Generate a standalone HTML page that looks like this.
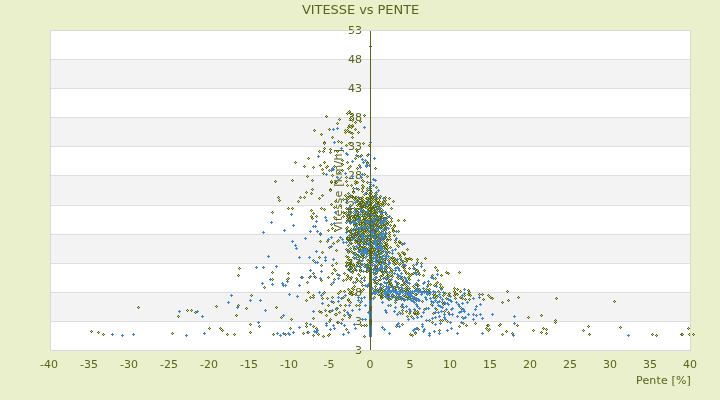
<!DOCTYPE html>
<html><head><meta charset="utf-8"><title>VITESSE vs PENTE</title>
<style>html,body{margin:0;padding:0;background:#eaf0cc;width:720px;height:400px;overflow:hidden;position:relative}
svg{display:block;position:absolute;left:0;top:0}
.lab{position:absolute;left:0;top:0;width:720px;height:400px;font-family:'DejaVu Sans',sans-serif;font-size:11px;line-height:13px;color:#59631a}
.lab span{position:absolute;white-space:nowrap}
.vt{transform-origin:0 0;transform:rotate(-90deg);letter-spacing:0.27px}
</style>
</head><body><svg width="720" height="400" viewBox="0 0 720 400"><rect x="0" y="0" width="720" height="400" fill="#eaf0cc"/><rect x="50" y="30" width="640" height="320" fill="#ffffff"/><rect x="51" y="59.09" width="639" height="29.09" fill="#f3f3f3"/><rect x="51" y="117.27" width="639" height="29.09" fill="#f3f3f3"/><rect x="51" y="175.45" width="639" height="29.09" fill="#f3f3f3"/><rect x="51" y="233.64" width="639" height="29.09" fill="#f3f3f3"/><rect x="51" y="291.82" width="639" height="29.09" fill="#f3f3f3"/><line x1="51" y1="59.5" x2="690" y2="59.5" stroke="#dedede" stroke-width="1"/><line x1="51" y1="88.5" x2="690" y2="88.5" stroke="#dedede" stroke-width="1"/><line x1="51" y1="117.5" x2="690" y2="117.5" stroke="#dedede" stroke-width="1"/><line x1="51" y1="146.5" x2="690" y2="146.5" stroke="#dedede" stroke-width="1"/><line x1="51" y1="175.5" x2="690" y2="175.5" stroke="#dedede" stroke-width="1"/><line x1="51" y1="205.5" x2="690" y2="205.5" stroke="#dedede" stroke-width="1"/><line x1="51" y1="234.5" x2="690" y2="234.5" stroke="#dedede" stroke-width="1"/><line x1="51" y1="263.5" x2="690" y2="263.5" stroke="#dedede" stroke-width="1"/><line x1="51" y1="292.5" x2="690" y2="292.5" stroke="#dedede" stroke-width="1"/><line x1="51" y1="321.5" x2="690" y2="321.5" stroke="#dedede" stroke-width="1"/></svg><div class="lab"><span style="left:-1px;top:358px;width:100px;text-align:center">-40</span><span style="left:39px;top:358px;width:100px;text-align:center">-35</span><span style="left:79px;top:358px;width:100px;text-align:center">-30</span><span style="left:119px;top:358px;width:100px;text-align:center">-25</span><span style="left:159px;top:358px;width:100px;text-align:center">-20</span><span style="left:199px;top:358px;width:100px;text-align:center">-15</span><span style="left:239px;top:358px;width:100px;text-align:center">-10</span><span style="left:279px;top:358px;width:100px;text-align:center">-5</span><span style="left:320px;top:358px;width:100px;text-align:center">0</span><span style="left:360px;top:358px;width:100px;text-align:center">5</span><span style="left:400px;top:358px;width:100px;text-align:center">10</span><span style="left:440px;top:358px;width:100px;text-align:center">15</span><span style="left:480px;top:358px;width:100px;text-align:center">20</span><span style="left:520px;top:358px;width:100px;text-align:center">25</span><span style="left:560px;top:358px;width:100px;text-align:center">30</span><span style="left:600px;top:358px;width:100px;text-align:center">35</span><span style="left:640px;top:358px;width:100px;text-align:center">40</span><span style="left:302px;top:24px;width:60px;text-align:right">53</span><span style="left:302px;top:53px;width:60px;text-align:right">48</span><span style="left:302px;top:82px;width:60px;text-align:right">43</span><span style="left:302px;top:111px;width:60px;text-align:right">38</span><span style="left:302px;top:140px;width:60px;text-align:right">33</span><span style="left:302px;top:169px;width:60px;text-align:right">28</span><span style="left:302px;top:199px;width:60px;text-align:right">23</span><span style="left:302px;top:228px;width:60px;text-align:right">18</span><span style="left:302px;top:257px;width:60px;text-align:right">13</span><span style="left:302px;top:286px;width:60px;text-align:right">8</span><span style="left:302px;top:315px;width:60px;text-align:right">3</span><span style="left:302px;top:344px;width:60px;text-align:right">3</span><span style="left:636px;top:374px;letter-spacing:0.15px">Pente [%]</span><span class="vt" style="left:332px;top:232px">Vitesse [km/h]</span><span style="left:302px;top:2px;font-size:13px;line-height:15px;letter-spacing:-0.07px">VITESSE vs PENTE</span></div><svg width="720" height="400" viewBox="0 0 720 400"><g shape-rendering="crispEdges"><path d="M430 301h3v1h-3zM431 300h1v3h-1zM364 305h3v1h-3zM365 304h1v3h-1zM401 304h3v1h-3zM402 303h1v3h-1zM413 309h3v1h-3zM414 308h1v3h-1zM398 326h3v1h-3zM399 325h1v3h-1zM422 331h3v1h-3zM423 330h1v3h-1zM481 333h3v1h-3zM482 332h1v3h-1zM396 267h3v1h-3zM397 266h1v3h-1zM412 268h3v1h-3zM413 267h1v3h-1zM396 274h3v1h-3zM397 273h1v3h-1zM365 198h3v1h-3zM366 197h1v3h-1zM368 231h3v1h-3zM369 230h1v3h-1zM367 238h3v1h-3zM368 237h1v3h-1zM373 238h3v1h-3zM374 237h1v3h-1zM378 243h3v1h-3zM379 242h1v3h-1zM353 248h3v1h-3zM354 247h1v3h-1zM358 245h3v1h-3zM359 244h1v3h-1zM362 244h3v1h-3zM363 243h1v3h-1zM384 248h3v1h-3zM385 247h1v3h-1zM383 248h3v1h-3zM384 247h1v3h-1zM364 265h3v1h-3zM365 264h1v3h-1zM355 270h3v1h-3zM356 269h1v3h-1zM377 269h3v1h-3zM378 268h1v3h-1zM390 286h3v1h-3zM391 285h1v3h-1zM405 293h3v1h-3zM406 292h1v3h-1z" fill="#3a86d8"/><path d="M287 273h3v1h-3zM288 272h1v3h-1zM250 295h3v1h-3zM251 294h1v3h-1zM333 207h3v1h-3zM334 206h1v3h-1zM319 165h3v1h-3zM320 164h1v3h-1zM437 291h3v1h-3zM438 290h1v3h-1zM445 298h3v1h-3zM446 297h1v3h-1zM348 111h3v1h-3zM349 110h1v3h-1zM351 126h3v1h-3zM352 125h1v3h-1zM341 164h3v1h-3zM342 163h1v3h-1zM347 300h3v1h-3zM348 299h1v3h-1zM388 234h3v1h-3zM389 233h1v3h-1zM366 203h3v1h-3zM367 202h1v3h-1zM363 206h3v1h-3zM364 205h1v3h-1zM354 214h3v1h-3zM355 213h1v3h-1zM377 218h3v1h-3zM378 217h1v3h-1zM358 223h3v1h-3zM359 222h1v3h-1zM365 224h3v1h-3zM366 223h1v3h-1zM361 231h3v1h-3zM362 230h1v3h-1zM363 235h3v1h-3zM364 234h1v3h-1zM370 235h3v1h-3zM371 234h1v3h-1zM373 231h3v1h-3zM374 230h1v3h-1zM377 242h3v1h-3zM378 241h1v3h-1zM360 248h3v1h-3zM361 247h1v3h-1zM377 251h3v1h-3zM378 250h1v3h-1zM373 253h3v1h-3zM374 252h1v3h-1zM350 268h3v1h-3zM351 267h1v3h-1zM374 269h3v1h-3zM375 268h1v3h-1zM384 269h3v1h-3zM385 268h1v3h-1zM385 292h3v1h-3zM386 291h1v3h-1zM412 299h3v1h-3zM413 298h1v3h-1zM369 210h3v1h-3zM370 209h1v3h-1zM369 261h3v1h-3zM370 260h1v3h-1z" fill="#5b6614"/><path d="M288 273h1v1h-1zM251 295h1v1h-1zM334 207h1v1h-1zM320 165h1v1h-1zM438 291h1v1h-1zM446 298h1v1h-1zM349 111h1v1h-1zM352 126h1v1h-1zM342 164h1v1h-1zM348 300h1v1h-1zM389 234h1v1h-1zM367 203h1v1h-1zM364 206h1v1h-1zM355 214h1v1h-1zM378 218h1v1h-1zM359 223h1v1h-1zM366 224h1v1h-1zM362 231h1v1h-1zM364 235h1v1h-1zM371 235h1v1h-1zM374 231h1v1h-1zM378 242h1v1h-1zM361 248h1v1h-1zM378 251h1v1h-1zM374 253h1v1h-1zM351 268h1v1h-1zM375 269h1v1h-1zM385 269h1v1h-1zM386 292h1v1h-1zM413 299h1v1h-1zM370 210h1v1h-1zM370 261h1v1h-1z" fill="#c6d86a"/><path d="M235 315h3v1h-3zM236 314h1v3h-1zM226 334h3v1h-3zM227 333h1v3h-1zM303 197h3v1h-3zM304 196h1v3h-1zM321 169h3v1h-3zM322 168h1v3h-1zM554 320h3v1h-3zM555 319h1v3h-1zM545 329h3v1h-3zM546 328h1v3h-1zM507 300h3v1h-3zM508 299h1v3h-1zM421 301h3v1h-3zM422 300h1v3h-1zM354 183h3v1h-3zM355 182h1v3h-1zM352 188h3v1h-3zM353 187h1v3h-1zM343 315h3v1h-3zM344 314h1v3h-1zM341 319h3v1h-3zM342 318h1v3h-1zM382 273h3v1h-3zM383 272h1v3h-1zM380 289h3v1h-3zM381 288h1v3h-1zM388 236h3v1h-3zM389 235h1v3h-1zM359 198h3v1h-3zM360 197h1v3h-1zM368 202h3v1h-3zM369 201h1v3h-1zM371 196h3v1h-3zM372 195h1v3h-1zM370 201h3v1h-3zM371 200h1v3h-1zM361 206h3v1h-3zM362 205h1v3h-1zM375 205h3v1h-3zM376 204h1v3h-1zM370 210h3v1h-3zM371 209h1v3h-1zM379 208h3v1h-3zM380 207h1v3h-1zM347 216h3v1h-3zM348 215h1v3h-1zM358 217h3v1h-3zM359 216h1v3h-1zM359 212h3v1h-3zM360 211h1v3h-1zM356 213h3v1h-3zM357 212h1v3h-1zM375 217h3v1h-3zM376 216h1v3h-1zM367 225h3v1h-3zM368 224h1v3h-1zM379 220h3v1h-3zM380 219h1v3h-1zM346 230h3v1h-3zM347 229h1v3h-1zM361 233h3v1h-3zM362 232h1v3h-1zM369 235h3v1h-3zM370 234h1v3h-1zM383 228h3v1h-3zM384 227h1v3h-1zM381 231h3v1h-3zM382 230h1v3h-1zM350 243h3v1h-3zM351 242h1v3h-1zM364 238h3v1h-3zM365 237h1v3h-1zM369 244h3v1h-3zM370 243h1v3h-1zM377 246h3v1h-3zM378 245h1v3h-1zM395 298h3v1h-3zM396 297h1v3h-1zM400 298h3v1h-3zM401 297h1v3h-1zM392 295h3v1h-3zM393 294h1v3h-1zM369 194h3v1h-3zM370 193h1v3h-1zM369 244h3v1h-3zM370 243h1v3h-1z" fill="#5b6614"/><path d="M236 315h1v1h-1zM227 334h1v1h-1zM304 197h1v1h-1zM322 169h1v1h-1zM555 320h1v1h-1zM546 329h1v1h-1zM508 300h1v1h-1zM422 301h1v1h-1zM355 183h1v1h-1zM353 188h1v1h-1zM344 315h1v1h-1zM342 319h1v1h-1zM383 273h1v1h-1zM381 289h1v1h-1zM389 236h1v1h-1zM360 198h1v1h-1zM369 202h1v1h-1zM372 196h1v1h-1zM371 201h1v1h-1zM362 206h1v1h-1zM376 205h1v1h-1zM371 210h1v1h-1zM380 208h1v1h-1zM348 216h1v1h-1zM359 217h1v1h-1zM360 212h1v1h-1zM357 213h1v1h-1zM376 217h1v1h-1zM368 225h1v1h-1zM380 220h1v1h-1zM347 230h1v1h-1zM362 233h1v1h-1zM370 235h1v1h-1zM384 228h1v1h-1zM382 231h1v1h-1zM351 243h1v1h-1zM365 238h1v1h-1zM370 244h1v1h-1zM378 246h1v1h-1zM396 298h1v1h-1zM401 298h1v1h-1zM393 295h1v1h-1zM370 194h1v1h-1zM370 244h1v1h-1z" fill="#c6d86a"/><path d="M121 335h3v1h-3zM122 334h1v3h-1zM336 177h3v1h-3zM337 176h1v3h-1zM375 273h3v1h-3zM376 272h1v3h-1zM375 277h3v1h-3zM376 276h1v3h-1zM394 268h3v1h-3zM395 267h1v3h-1zM397 268h3v1h-3zM398 267h1v3h-1zM362 204h3v1h-3zM363 203h1v3h-1zM360 222h3v1h-3zM361 221h1v3h-1zM366 227h3v1h-3zM367 226h1v3h-1zM381 222h3v1h-3zM382 221h1v3h-1zM384 223h3v1h-3zM385 222h1v3h-1zM360 239h3v1h-3zM361 238h1v3h-1zM364 237h3v1h-3zM365 236h1v3h-1zM374 248h3v1h-3zM375 247h1v3h-1zM369 327h3v1h-3zM370 326h1v3h-1z" fill="#3a86d8"/><path d="M313 331h3v1h-3zM314 330h1v3h-1zM449 296h3v1h-3zM450 295h1v3h-1zM331 169h3v1h-3zM332 168h1v3h-1zM337 301h3v1h-3zM338 300h1v3h-1zM357 300h3v1h-3zM358 299h1v3h-1zM367 312h3v1h-3zM368 311h1v3h-1zM415 328h3v1h-3zM416 327h1v3h-1zM416 328h3v1h-3zM417 327h1v3h-1zM406 282h3v1h-3zM407 281h1v3h-1zM384 218h3v1h-3zM385 217h1v3h-1zM376 247h3v1h-3zM377 246h1v3h-1zM390 298h3v1h-3zM391 297h1v3h-1zM406 289h3v1h-3zM407 288h1v3h-1zM409 294h3v1h-3zM410 293h1v3h-1zM369 330h3v1h-3zM370 329h1v3h-1z" fill="#3a86d8"/><path d="M275 307h3v1h-3zM276 306h1v3h-1zM331 297h3v1h-3zM332 296h1v3h-1zM321 195h3v1h-3zM322 194h1v3h-1zM287 208h3v1h-3zM288 207h1v3h-1zM320 208h3v1h-3zM321 207h1v3h-1zM319 234h3v1h-3zM320 233h1v3h-1zM335 250h3v1h-3zM336 249h1v3h-1zM420 263h3v1h-3zM421 262h1v3h-1zM425 289h3v1h-3zM426 288h1v3h-1zM453 291h3v1h-3zM454 290h1v3h-1zM447 295h3v1h-3zM448 294h1v3h-1zM453 295h3v1h-3zM454 294h1v3h-1zM346 130h3v1h-3zM347 129h1v3h-1zM357 132h3v1h-3zM358 131h1v3h-1zM333 166h3v1h-3zM334 165h1v3h-1zM374 168h3v1h-3zM375 167h1v3h-1zM355 305h3v1h-3zM356 304h1v3h-1zM345 329h3v1h-3zM346 328h1v3h-1zM382 293h3v1h-3zM383 292h1v3h-1zM390 208h3v1h-3zM391 207h1v3h-1zM390 218h3v1h-3zM391 217h1v3h-1zM391 228h3v1h-3zM392 227h1v3h-1zM397 278h3v1h-3zM398 277h1v3h-1zM365 198h3v1h-3zM366 197h1v3h-1zM378 201h3v1h-3zM379 200h1v3h-1zM360 208h3v1h-3zM361 207h1v3h-1zM364 204h3v1h-3zM365 203h1v3h-1zM381 204h3v1h-3zM382 203h1v3h-1zM351 216h3v1h-3zM352 215h1v3h-1zM361 212h3v1h-3zM362 211h1v3h-1zM365 212h3v1h-3zM366 211h1v3h-1zM370 212h3v1h-3zM371 211h1v3h-1zM356 224h3v1h-3zM357 223h1v3h-1zM383 225h3v1h-3zM384 224h1v3h-1zM351 234h3v1h-3zM352 233h1v3h-1zM354 235h3v1h-3zM355 234h1v3h-1zM373 234h3v1h-3zM374 233h1v3h-1zM381 228h3v1h-3zM382 227h1v3h-1zM382 235h3v1h-3zM383 234h1v3h-1zM348 238h3v1h-3zM349 237h1v3h-1zM357 239h3v1h-3zM358 238h1v3h-1zM376 237h3v1h-3zM377 236h1v3h-1zM371 241h3v1h-3zM372 240h1v3h-1zM374 237h3v1h-3zM375 236h1v3h-1zM369 218h3v1h-3zM370 217h1v3h-1zM369 230h3v1h-3zM370 229h1v3h-1z" fill="#5b6614"/><path d="M276 307h1v1h-1zM332 297h1v1h-1zM322 195h1v1h-1zM288 208h1v1h-1zM321 208h1v1h-1zM320 234h1v1h-1zM336 250h1v1h-1zM421 263h1v1h-1zM426 289h1v1h-1zM454 291h1v1h-1zM448 295h1v1h-1zM454 295h1v1h-1zM347 130h1v1h-1zM358 132h1v1h-1zM334 166h1v1h-1zM375 168h1v1h-1zM356 305h1v1h-1zM346 329h1v1h-1zM383 293h1v1h-1zM391 208h1v1h-1zM391 218h1v1h-1zM392 228h1v1h-1zM398 278h1v1h-1zM366 198h1v1h-1zM379 201h1v1h-1zM361 208h1v1h-1zM365 204h1v1h-1zM382 204h1v1h-1zM352 216h1v1h-1zM362 212h1v1h-1zM366 212h1v1h-1zM371 212h1v1h-1zM357 224h1v1h-1zM384 225h1v1h-1zM352 234h1v1h-1zM355 235h1v1h-1zM374 234h1v1h-1zM382 228h1v1h-1zM383 235h1v1h-1zM349 238h1v1h-1zM358 239h1v1h-1zM377 237h1v1h-1zM372 241h1v1h-1zM375 237h1v1h-1zM370 218h1v1h-1zM370 230h1v1h-1z" fill="#c6d86a"/><path d="M274 181h3v1h-3zM275 180h1v3h-1zM613 301h3v1h-3zM614 300h1v3h-1zM434 298h3v1h-3zM435 297h1v3h-1zM423 309h3v1h-3zM424 308h1v3h-1zM443 311h3v1h-3zM444 310h1v3h-1zM363 115h3v1h-3zM364 114h1v3h-1zM351 125h3v1h-3zM352 124h1v3h-1zM344 130h3v1h-3zM345 129h1v3h-1zM349 132h3v1h-3zM350 131h1v3h-1zM363 174h3v1h-3zM364 173h1v3h-1zM405 311h3v1h-3zM406 310h1v3h-1zM405 261h3v1h-3zM406 260h1v3h-1zM391 276h3v1h-3zM392 275h1v3h-1zM374 201h3v1h-3zM375 200h1v3h-1zM381 204h3v1h-3zM382 203h1v3h-1zM379 210h3v1h-3zM380 209h1v3h-1zM348 217h3v1h-3zM349 216h1v3h-1zM358 218h3v1h-3zM359 217h1v3h-1zM365 212h3v1h-3zM366 211h1v3h-1zM384 218h3v1h-3zM385 217h1v3h-1zM380 213h3v1h-3zM381 212h1v3h-1zM349 222h3v1h-3zM350 221h1v3h-1zM371 224h3v1h-3zM372 223h1v3h-1zM349 234h3v1h-3zM350 233h1v3h-1zM375 235h3v1h-3zM376 234h1v3h-1zM372 234h3v1h-3zM373 233h1v3h-1zM349 240h3v1h-3zM350 239h1v3h-1zM373 243h3v1h-3zM374 242h1v3h-1zM352 246h3v1h-3zM353 245h1v3h-1zM359 246h3v1h-3zM360 245h1v3h-1zM366 251h3v1h-3zM367 250h1v3h-1zM364 257h3v1h-3zM365 256h1v3h-1zM365 253h3v1h-3zM366 252h1v3h-1zM376 260h3v1h-3zM377 259h1v3h-1zM380 263h3v1h-3zM381 262h1v3h-1zM380 262h3v1h-3zM381 261h1v3h-1zM381 290h3v1h-3zM382 289h1v3h-1zM369 188h3v1h-3zM370 187h1v3h-1z" fill="#5b6614"/><path d="M275 181h1v1h-1zM614 301h1v1h-1zM435 298h1v1h-1zM424 309h1v1h-1zM444 311h1v1h-1zM364 115h1v1h-1zM352 125h1v1h-1zM345 130h1v1h-1zM350 132h1v1h-1zM364 174h1v1h-1zM406 311h1v1h-1zM406 261h1v1h-1zM392 276h1v1h-1zM375 201h1v1h-1zM382 204h1v1h-1zM380 210h1v1h-1zM349 217h1v1h-1zM359 218h1v1h-1zM366 212h1v1h-1zM385 218h1v1h-1zM381 213h1v1h-1zM350 222h1v1h-1zM372 224h1v1h-1zM350 234h1v1h-1zM376 235h1v1h-1zM373 234h1v1h-1zM350 240h1v1h-1zM374 243h1v1h-1zM353 246h1v1h-1zM360 246h1v1h-1zM367 251h1v1h-1zM365 257h1v1h-1zM366 253h1v1h-1zM377 260h1v1h-1zM381 263h1v1h-1zM381 262h1v1h-1zM382 290h1v1h-1zM370 188h1v1h-1z" fill="#c6d86a"/><path d="M321 303h3v1h-3zM322 302h1v3h-1zM332 325h3v1h-3zM333 324h1v3h-1zM292 225h3v1h-3zM293 224h1v3h-1zM333 142h3v1h-3zM334 141h1v3h-1zM451 308h3v1h-3zM452 307h1v3h-1zM385 272h3v1h-3zM386 271h1v3h-1zM400 273h3v1h-3zM401 272h1v3h-1zM355 216h3v1h-3zM356 215h1v3h-1zM353 215h3v1h-3zM354 214h1v3h-1zM363 220h3v1h-3zM364 219h1v3h-1zM369 228h3v1h-3zM370 227h1v3h-1zM359 242h3v1h-3zM360 241h1v3h-1zM356 247h3v1h-3zM357 246h1v3h-1zM374 251h3v1h-3zM375 250h1v3h-1zM368 264h3v1h-3zM369 263h1v3h-1zM406 293h3v1h-3zM407 292h1v3h-1z" fill="#3a86d8"/><path d="M416 317h3v1h-3zM417 316h1v3h-1zM354 328h3v1h-3zM355 327h1v3h-1zM415 314h3v1h-3zM416 313h1v3h-1zM384 292h3v1h-3zM385 291h1v3h-1zM388 262h3v1h-3zM389 261h1v3h-1zM388 263h3v1h-3zM389 262h1v3h-1zM367 201h3v1h-3zM368 200h1v3h-1zM364 230h3v1h-3zM365 229h1v3h-1zM363 240h3v1h-3zM364 239h1v3h-1zM377 242h3v1h-3zM378 241h1v3h-1zM366 253h3v1h-3zM367 252h1v3h-1zM380 253h3v1h-3zM381 252h1v3h-1zM377 260h3v1h-3zM378 259h1v3h-1zM404 296h3v1h-3zM405 295h1v3h-1zM408 288h3v1h-3zM409 287h1v3h-1z" fill="#3a86d8"/><path d="M237 275h3v1h-3zM238 274h1v3h-1zM215 306h3v1h-3zM216 305h1v3h-1zM322 336h3v1h-3zM323 335h1v3h-1zM277 197h3v1h-3zM278 196h1v3h-1zM333 217h3v1h-3zM334 216h1v3h-1zM428 294h3v1h-3zM429 293h1v3h-1zM351 133h3v1h-3zM352 132h1v3h-1zM368 145h3v1h-3zM369 144h1v3h-1zM361 185h3v1h-3zM362 184h1v3h-1zM416 311h3v1h-3zM417 310h1v3h-1zM386 289h3v1h-3zM387 288h1v3h-1zM379 295h3v1h-3zM380 294h1v3h-1zM394 240h3v1h-3zM395 239h1v3h-1zM386 248h3v1h-3zM387 247h1v3h-1zM390 272h3v1h-3zM391 271h1v3h-1zM402 281h3v1h-3zM403 280h1v3h-1zM369 199h3v1h-3zM370 198h1v3h-1zM349 209h3v1h-3zM350 208h1v3h-1zM360 209h3v1h-3zM361 208h1v3h-1zM353 211h3v1h-3zM354 210h1v3h-1zM383 218h3v1h-3zM384 217h1v3h-1zM375 221h3v1h-3zM376 220h1v3h-1zM371 223h3v1h-3zM372 222h1v3h-1zM373 224h3v1h-3zM374 223h1v3h-1zM357 230h3v1h-3zM358 229h1v3h-1zM346 237h3v1h-3zM347 236h1v3h-1zM366 239h3v1h-3zM367 238h1v3h-1zM377 237h3v1h-3zM378 236h1v3h-1zM373 249h3v1h-3zM374 248h1v3h-1zM378 250h3v1h-3zM379 249h1v3h-1zM370 263h3v1h-3zM371 262h1v3h-1zM377 264h3v1h-3zM378 263h1v3h-1zM383 271h3v1h-3zM384 270h1v3h-1zM387 299h3v1h-3zM388 298h1v3h-1zM412 286h3v1h-3zM413 285h1v3h-1zM369 226h3v1h-3zM370 225h1v3h-1zM369 295h3v1h-3zM370 294h1v3h-1z" fill="#5b6614"/><path d="M238 275h1v1h-1zM216 306h1v1h-1zM323 336h1v1h-1zM278 197h1v1h-1zM334 217h1v1h-1zM429 294h1v1h-1zM352 133h1v1h-1zM369 145h1v1h-1zM362 185h1v1h-1zM417 311h1v1h-1zM387 289h1v1h-1zM380 295h1v1h-1zM395 240h1v1h-1zM387 248h1v1h-1zM391 272h1v1h-1zM403 281h1v1h-1zM370 199h1v1h-1zM350 209h1v1h-1zM361 209h1v1h-1zM354 211h1v1h-1zM384 218h1v1h-1zM376 221h1v1h-1zM372 223h1v1h-1zM374 224h1v1h-1zM358 230h1v1h-1zM347 237h1v1h-1zM367 239h1v1h-1zM378 237h1v1h-1zM374 249h1v1h-1zM379 250h1v1h-1zM371 263h1v1h-1zM378 264h1v1h-1zM384 271h1v1h-1zM388 299h1v1h-1zM413 286h1v1h-1zM370 226h1v1h-1zM370 295h1v1h-1z" fill="#c6d86a"/><path d="M336 322h3v1h-3zM337 321h1v3h-1zM542 328h3v1h-3zM543 327h1v3h-1zM440 275h3v1h-3zM441 274h1v3h-1zM331 137h3v1h-3zM332 136h1v3h-1zM358 165h3v1h-3zM359 164h1v3h-1zM329 311h3v1h-3zM330 310h1v3h-1zM345 329h3v1h-3zM346 328h1v3h-1zM333 279h3v1h-3zM334 278h1v3h-1zM385 220h3v1h-3zM386 219h1v3h-1zM387 222h3v1h-3zM388 221h1v3h-1zM389 225h3v1h-3zM390 224h1v3h-1zM373 196h3v1h-3zM374 195h1v3h-1zM384 200h3v1h-3zM385 199h1v3h-1zM381 203h3v1h-3zM382 202h1v3h-1zM355 212h3v1h-3zM356 211h1v3h-1zM357 215h3v1h-3zM358 214h1v3h-1zM357 216h3v1h-3zM358 215h1v3h-1zM368 212h3v1h-3zM369 211h1v3h-1zM375 212h3v1h-3zM376 211h1v3h-1zM346 220h3v1h-3zM347 219h1v3h-1zM356 227h3v1h-3zM357 226h1v3h-1zM365 221h3v1h-3zM366 220h1v3h-1zM376 220h3v1h-3zM377 219h1v3h-1zM379 237h3v1h-3zM380 236h1v3h-1zM379 240h3v1h-3zM380 239h1v3h-1zM375 252h3v1h-3zM376 251h1v3h-1zM379 270h3v1h-3zM380 269h1v3h-1zM387 288h3v1h-3zM388 287h1v3h-1zM395 286h3v1h-3zM396 285h1v3h-1zM383 290h3v1h-3zM384 289h1v3h-1zM369 198h3v1h-3zM370 197h1v3h-1zM369 279h3v1h-3zM370 278h1v3h-1z" fill="#5b6614"/><path d="M337 322h1v1h-1zM543 328h1v1h-1zM441 275h1v1h-1zM332 137h1v1h-1zM359 165h1v1h-1zM330 311h1v1h-1zM346 329h1v1h-1zM334 279h1v1h-1zM386 220h1v1h-1zM388 222h1v1h-1zM390 225h1v1h-1zM374 196h1v1h-1zM385 200h1v1h-1zM382 203h1v1h-1zM356 212h1v1h-1zM358 215h1v1h-1zM358 216h1v1h-1zM369 212h1v1h-1zM376 212h1v1h-1zM347 220h1v1h-1zM357 227h1v1h-1zM366 221h1v1h-1zM377 220h1v1h-1zM380 237h1v1h-1zM380 240h1v1h-1zM376 252h1v1h-1zM380 270h1v1h-1zM388 288h1v1h-1zM396 286h1v1h-1zM384 290h1v1h-1zM370 198h1v1h-1zM370 279h1v1h-1z" fill="#c6d86a"/><path d="M269 279h3v1h-3zM270 278h1v3h-1zM317 156h3v1h-3zM318 155h1v3h-1zM424 297h3v1h-3zM425 296h1v3h-1zM373 158h3v1h-3zM374 157h1v3h-1zM403 300h3v1h-3zM404 299h1v3h-1zM412 301h3v1h-3zM413 300h1v3h-1zM402 307h3v1h-3zM403 306h1v3h-1zM403 282h3v1h-3zM404 281h1v3h-1zM345 232h3v1h-3zM346 231h1v3h-1zM357 197h3v1h-3zM358 196h1v3h-1zM370 199h3v1h-3zM371 198h1v3h-1zM348 235h3v1h-3zM349 234h1v3h-1zM360 229h3v1h-3zM361 228h1v3h-1zM380 232h3v1h-3zM381 231h1v3h-1zM384 243h3v1h-3zM385 242h1v3h-1zM362 251h3v1h-3zM363 250h1v3h-1zM369 248h3v1h-3zM370 247h1v3h-1zM376 244h3v1h-3zM377 243h1v3h-1zM376 245h3v1h-3zM377 244h1v3h-1zM384 266h3v1h-3zM385 265h1v3h-1z" fill="#3a86d8"/><path d="M279 335h3v1h-3zM280 334h1v3h-1zM422 288h3v1h-3zM423 287h1v3h-1zM450 309h3v1h-3zM451 308h1v3h-1zM443 314h3v1h-3zM444 313h1v3h-1zM355 155h3v1h-3zM356 154h1v3h-1zM359 156h3v1h-3zM360 155h1v3h-1zM394 307h3v1h-3zM395 306h1v3h-1zM414 332h3v1h-3zM415 331h1v3h-1zM364 285h3v1h-3zM365 284h1v3h-1zM372 272h3v1h-3zM373 271h1v3h-1zM387 299h3v1h-3zM388 298h1v3h-1zM373 205h3v1h-3zM374 204h1v3h-1zM363 216h3v1h-3zM364 215h1v3h-1zM359 220h3v1h-3zM360 219h1v3h-1zM363 223h3v1h-3zM364 222h1v3h-1zM370 225h3v1h-3zM371 224h1v3h-1zM381 234h3v1h-3zM382 233h1v3h-1zM362 249h3v1h-3zM363 248h1v3h-1zM363 248h3v1h-3zM364 247h1v3h-1zM374 244h3v1h-3zM375 243h1v3h-1zM360 264h3v1h-3zM361 263h1v3h-1zM381 271h3v1h-3zM382 270h1v3h-1zM391 294h3v1h-3zM392 293h1v3h-1z" fill="#3a86d8"/><path d="M326 298h3v1h-3zM327 297h1v3h-1zM312 326h3v1h-3zM313 325h1v3h-1zM330 224h3v1h-3zM331 223h1v3h-1zM313 130h3v1h-3zM314 129h1v3h-1zM501 302h3v1h-3zM502 301h1v3h-1zM488 329h3v1h-3zM489 328h1v3h-1zM498 325h3v1h-3zM499 324h1v3h-1zM375 194h3v1h-3zM376 193h1v3h-1zM368 194h3v1h-3zM369 193h1v3h-1zM343 310h3v1h-3zM344 309h1v3h-1zM400 306h3v1h-3zM401 305h1v3h-1zM401 310h3v1h-3zM402 309h1v3h-1zM360 282h3v1h-3zM361 281h1v3h-1zM401 252h3v1h-3zM402 251h1v3h-1zM393 258h3v1h-3zM394 257h1v3h-1zM401 263h3v1h-3zM402 262h1v3h-1zM391 270h3v1h-3zM392 269h1v3h-1zM410 274h3v1h-3zM411 273h1v3h-1zM429 284h3v1h-3zM430 283h1v3h-1zM368 197h3v1h-3zM369 196h1v3h-1zM353 208h3v1h-3zM354 207h1v3h-1zM349 215h3v1h-3zM350 214h1v3h-1zM359 212h3v1h-3zM360 211h1v3h-1zM375 215h3v1h-3zM376 214h1v3h-1zM377 219h3v1h-3zM378 218h1v3h-1zM366 227h3v1h-3zM367 226h1v3h-1zM366 226h3v1h-3zM367 225h1v3h-1zM368 223h3v1h-3zM369 222h1v3h-1zM383 221h3v1h-3zM384 220h1v3h-1zM354 229h3v1h-3zM355 228h1v3h-1zM375 231h3v1h-3zM376 230h1v3h-1zM353 239h3v1h-3zM354 238h1v3h-1zM363 243h3v1h-3zM364 242h1v3h-1zM363 247h3v1h-3zM364 246h1v3h-1zM376 245h3v1h-3zM377 244h1v3h-1zM384 245h3v1h-3zM385 244h1v3h-1zM366 268h3v1h-3zM367 267h1v3h-1zM405 295h3v1h-3zM406 294h1v3h-1zM378 290h3v1h-3zM379 289h1v3h-1zM369 214h3v1h-3zM370 213h1v3h-1zM369 282h3v1h-3zM370 281h1v3h-1z" fill="#5b6614"/><path d="M327 298h1v1h-1zM313 326h1v1h-1zM331 224h1v1h-1zM314 130h1v1h-1zM502 302h1v1h-1zM489 329h1v1h-1zM499 325h1v1h-1zM376 194h1v1h-1zM369 194h1v1h-1zM344 310h1v1h-1zM401 306h1v1h-1zM402 310h1v1h-1zM361 282h1v1h-1zM402 252h1v1h-1zM394 258h1v1h-1zM402 263h1v1h-1zM392 270h1v1h-1zM411 274h1v1h-1zM430 284h1v1h-1zM369 197h1v1h-1zM354 208h1v1h-1zM350 215h1v1h-1zM360 212h1v1h-1zM376 215h1v1h-1zM378 219h1v1h-1zM367 227h1v1h-1zM367 226h1v1h-1zM369 223h1v1h-1zM384 221h1v1h-1zM355 229h1v1h-1zM376 231h1v1h-1zM354 239h1v1h-1zM364 243h1v1h-1zM364 247h1v1h-1zM377 245h1v1h-1zM385 245h1v1h-1zM367 268h1v1h-1zM406 295h1v1h-1zM379 290h1v1h-1zM370 214h1v1h-1zM370 282h1v1h-1z" fill="#c6d86a"/><path d="M312 335h3v1h-3zM313 334h1v3h-1zM318 198h3v1h-3zM319 197h1v3h-1zM416 262h3v1h-3zM417 261h1v3h-1zM436 296h3v1h-3zM437 295h1v3h-1zM459 297h3v1h-3zM460 296h1v3h-1zM460 308h3v1h-3zM461 307h1v3h-1zM428 320h3v1h-3zM429 319h1v3h-1zM441 320h3v1h-3zM442 319h1v3h-1zM347 131h3v1h-3zM348 130h1v3h-1zM366 162h3v1h-3zM367 161h1v3h-1zM366 188h3v1h-3zM367 187h1v3h-1zM369 190h3v1h-3zM370 189h1v3h-1zM348 317h3v1h-3zM349 316h1v3h-1zM329 319h3v1h-3zM330 318h1v3h-1zM386 224h3v1h-3zM387 223h1v3h-1zM386 245h3v1h-3zM387 244h1v3h-1zM386 251h3v1h-3zM387 250h1v3h-1zM404 258h3v1h-3zM405 257h1v3h-1zM399 263h3v1h-3zM400 262h1v3h-1zM390 284h3v1h-3zM391 283h1v3h-1zM427 284h3v1h-3zM428 283h1v3h-1zM435 283h3v1h-3zM436 282h1v3h-1zM375 199h3v1h-3zM376 198h1v3h-1zM372 206h3v1h-3zM373 205h1v3h-1zM348 219h3v1h-3zM349 218h1v3h-1zM352 218h3v1h-3zM353 217h1v3h-1zM365 219h3v1h-3zM366 218h1v3h-1zM380 218h3v1h-3zM381 217h1v3h-1zM360 223h3v1h-3zM361 222h1v3h-1zM363 227h3v1h-3zM364 226h1v3h-1zM361 226h3v1h-3zM362 225h1v3h-1zM366 220h3v1h-3zM367 219h1v3h-1zM368 240h3v1h-3zM369 239h1v3h-1zM379 242h3v1h-3zM380 241h1v3h-1zM377 241h3v1h-3zM378 240h1v3h-1zM370 248h3v1h-3zM371 247h1v3h-1zM362 255h3v1h-3zM363 254h1v3h-1zM375 254h3v1h-3zM376 253h1v3h-1zM356 262h3v1h-3zM357 261h1v3h-1zM383 261h3v1h-3zM384 260h1v3h-1zM404 296h3v1h-3zM405 295h1v3h-1zM398 289h3v1h-3zM399 288h1v3h-1zM369 208h3v1h-3zM370 207h1v3h-1z" fill="#5b6614"/><path d="M313 335h1v1h-1zM319 198h1v1h-1zM417 262h1v1h-1zM437 296h1v1h-1zM460 297h1v1h-1zM461 308h1v1h-1zM429 320h1v1h-1zM442 320h1v1h-1zM348 131h1v1h-1zM367 162h1v1h-1zM367 188h1v1h-1zM370 190h1v1h-1zM349 317h1v1h-1zM330 319h1v1h-1zM387 224h1v1h-1zM387 245h1v1h-1zM387 251h1v1h-1zM405 258h1v1h-1zM400 263h1v1h-1zM391 284h1v1h-1zM428 284h1v1h-1zM436 283h1v1h-1zM376 199h1v1h-1zM373 206h1v1h-1zM349 219h1v1h-1zM353 218h1v1h-1zM366 219h1v1h-1zM381 218h1v1h-1zM361 223h1v1h-1zM364 227h1v1h-1zM362 226h1v1h-1zM367 220h1v1h-1zM369 240h1v1h-1zM380 242h1v1h-1zM378 241h1v1h-1zM371 248h1v1h-1zM363 255h1v1h-1zM376 254h1v1h-1zM357 262h1v1h-1zM384 261h1v1h-1zM405 296h1v1h-1zM399 289h1v1h-1zM370 208h1v1h-1z" fill="#c6d86a"/><path d="M287 333h3v1h-3zM288 332h1v3h-1zM314 226h3v1h-3zM315 225h1v3h-1zM423 282h3v1h-3zM424 281h1v3h-1zM415 304h3v1h-3zM416 303h1v3h-1zM440 311h3v1h-3zM441 310h1v3h-1zM456 316h3v1h-3zM457 315h1v3h-1zM464 317h3v1h-3zM465 316h1v3h-1zM472 319h3v1h-3zM473 318h1v3h-1zM365 165h3v1h-3zM366 164h1v3h-1zM353 324h3v1h-3zM354 323h1v3h-1zM381 327h3v1h-3zM382 326h1v3h-1zM340 298h3v1h-3zM341 297h1v3h-1zM396 259h3v1h-3zM397 258h1v3h-1zM408 283h3v1h-3zM409 282h1v3h-1zM370 220h3v1h-3zM371 219h1v3h-1zM372 223h3v1h-3zM373 222h1v3h-1zM384 222h3v1h-3zM385 221h1v3h-1zM372 229h3v1h-3zM373 228h1v3h-1zM352 236h3v1h-3zM353 235h1v3h-1zM349 243h3v1h-3zM350 242h1v3h-1zM353 236h3v1h-3zM354 235h1v3h-1zM362 240h3v1h-3zM363 239h1v3h-1zM377 240h3v1h-3zM378 239h1v3h-1zM379 244h3v1h-3zM380 243h1v3h-1zM376 271h3v1h-3zM377 270h1v3h-1zM369 317h3v1h-3zM370 316h1v3h-1zM369 318h3v1h-3zM370 317h1v3h-1z" fill="#3a86d8"/><path d="M249 300h3v1h-3zM250 299h1v3h-1zM367 154h3v1h-3zM368 153h1v3h-1zM344 173h3v1h-3zM345 172h1v3h-1zM331 310h3v1h-3zM332 309h1v3h-1zM394 300h3v1h-3zM395 299h1v3h-1zM387 305h3v1h-3zM388 304h1v3h-1zM401 244h3v1h-3zM402 243h1v3h-1zM390 279h3v1h-3zM391 278h1v3h-1zM345 199h3v1h-3zM346 198h1v3h-1zM351 221h3v1h-3zM352 220h1v3h-1zM367 221h3v1h-3zM368 220h1v3h-1zM374 225h3v1h-3zM375 224h1v3h-1zM360 254h3v1h-3zM361 253h1v3h-1zM362 255h3v1h-3zM363 254h1v3h-1zM384 266h3v1h-3zM385 265h1v3h-1z" fill="#3a86d8"/><path d="M137 307h3v1h-3zM138 306h1v3h-1zM322 293h3v1h-3zM323 292h1v3h-1zM327 305h3v1h-3zM328 304h1v3h-1zM312 260h3v1h-3zM313 259h1v3h-1zM306 176h3v1h-3zM307 175h1v3h-1zM555 298h3v1h-3zM556 297h1v3h-1zM416 270h3v1h-3zM417 269h1v3h-1zM416 311h3v1h-3zM417 310h1v3h-1zM431 322h3v1h-3zM432 321h1v3h-1zM344 132h3v1h-3zM345 131h1v3h-1zM366 163h3v1h-3zM367 162h1v3h-1zM357 189h3v1h-3zM358 188h1v3h-1zM352 289h3v1h-3zM353 288h1v3h-1zM388 198h3v1h-3zM389 197h1v3h-1zM400 243h3v1h-3zM401 242h1v3h-1zM396 277h3v1h-3zM397 276h1v3h-1zM339 205h3v1h-3zM340 204h1v3h-1zM369 203h3v1h-3zM370 202h1v3h-1zM384 203h3v1h-3zM385 202h1v3h-1zM376 206h3v1h-3zM377 205h1v3h-1zM362 229h3v1h-3zM363 228h1v3h-1zM377 231h3v1h-3zM378 230h1v3h-1zM384 233h3v1h-3zM385 232h1v3h-1zM349 239h3v1h-3zM350 238h1v3h-1zM359 243h3v1h-3zM360 242h1v3h-1zM366 239h3v1h-3zM367 238h1v3h-1zM384 236h3v1h-3zM385 235h1v3h-1zM362 247h3v1h-3zM363 246h1v3h-1zM375 245h3v1h-3zM376 244h1v3h-1zM371 251h3v1h-3zM372 250h1v3h-1zM362 257h3v1h-3zM363 256h1v3h-1zM367 266h3v1h-3zM368 265h1v3h-1zM380 271h3v1h-3zM381 270h1v3h-1zM409 296h3v1h-3zM410 295h1v3h-1zM396 297h3v1h-3zM397 296h1v3h-1zM369 267h3v1h-3zM370 266h1v3h-1zM369 307h3v1h-3zM370 306h1v3h-1zM369 309h3v1h-3zM370 308h1v3h-1z" fill="#5b6614"/><path d="M138 307h1v1h-1zM323 293h1v1h-1zM328 305h1v1h-1zM313 260h1v1h-1zM307 176h1v1h-1zM556 298h1v1h-1zM417 270h1v1h-1zM417 311h1v1h-1zM432 322h1v1h-1zM345 132h1v1h-1zM367 163h1v1h-1zM358 189h1v1h-1zM353 289h1v1h-1zM389 198h1v1h-1zM401 243h1v1h-1zM397 277h1v1h-1zM340 205h1v1h-1zM370 203h1v1h-1zM385 203h1v1h-1zM377 206h1v1h-1zM363 229h1v1h-1zM378 231h1v1h-1zM385 233h1v1h-1zM350 239h1v1h-1zM360 243h1v1h-1zM367 239h1v1h-1zM385 236h1v1h-1zM363 247h1v1h-1zM376 245h1v1h-1zM372 251h1v1h-1zM363 257h1v1h-1zM368 266h1v1h-1zM381 271h1v1h-1zM410 296h1v1h-1zM397 297h1v1h-1zM370 267h1v1h-1zM370 307h1v1h-1zM370 309h1v1h-1z" fill="#c6d86a"/><path d="M320 280h3v1h-3zM321 279h1v3h-1zM333 279h3v1h-3zM334 278h1v3h-1zM299 197h3v1h-3zM300 196h1v3h-1zM328 247h3v1h-3zM329 246h1v3h-1zM459 291h3v1h-3zM460 290h1v3h-1zM360 301h3v1h-3zM361 300h1v3h-1zM356 280h3v1h-3zM357 279h1v3h-1zM363 277h3v1h-3zM364 276h1v3h-1zM351 294h3v1h-3zM352 293h1v3h-1zM379 284h3v1h-3zM380 283h1v3h-1zM393 264h3v1h-3zM394 263h1v3h-1zM402 266h3v1h-3zM403 265h1v3h-1zM400 285h3v1h-3zM401 284h1v3h-1zM344 213h3v1h-3zM345 212h1v3h-1zM372 199h3v1h-3zM373 198h1v3h-1zM372 208h3v1h-3zM373 207h1v3h-1zM373 214h3v1h-3zM374 213h1v3h-1zM356 220h3v1h-3zM357 219h1v3h-1zM353 224h3v1h-3zM354 223h1v3h-1zM348 231h3v1h-3zM349 230h1v3h-1zM355 228h3v1h-3zM356 227h1v3h-1zM360 230h3v1h-3zM361 229h1v3h-1zM367 232h3v1h-3zM368 231h1v3h-1zM360 236h3v1h-3zM361 235h1v3h-1zM358 244h3v1h-3zM359 243h1v3h-1zM355 248h3v1h-3zM356 247h1v3h-1zM353 249h3v1h-3zM354 248h1v3h-1zM367 248h3v1h-3zM368 247h1v3h-1zM364 247h3v1h-3zM365 246h1v3h-1zM374 247h3v1h-3zM375 246h1v3h-1zM379 247h3v1h-3zM380 246h1v3h-1zM355 254h3v1h-3zM356 253h1v3h-1zM377 252h3v1h-3zM378 251h1v3h-1zM374 269h3v1h-3zM375 268h1v3h-1zM369 292h3v1h-3zM370 291h1v3h-1z" fill="#5b6614"/><path d="M321 280h1v1h-1zM334 279h1v1h-1zM300 197h1v1h-1zM329 247h1v1h-1zM460 291h1v1h-1zM361 301h1v1h-1zM357 280h1v1h-1zM364 277h1v1h-1zM352 294h1v1h-1zM380 284h1v1h-1zM394 264h1v1h-1zM403 266h1v1h-1zM401 285h1v1h-1zM345 213h1v1h-1zM373 199h1v1h-1zM373 208h1v1h-1zM374 214h1v1h-1zM357 220h1v1h-1zM354 224h1v1h-1zM349 231h1v1h-1zM356 228h1v1h-1zM361 230h1v1h-1zM368 232h1v1h-1zM361 236h1v1h-1zM359 244h1v1h-1zM356 248h1v1h-1zM354 249h1v1h-1zM368 248h1v1h-1zM365 247h1v1h-1zM375 247h1v1h-1zM380 247h1v1h-1zM356 254h1v1h-1zM378 252h1v1h-1zM375 269h1v1h-1zM370 292h1v1h-1z" fill="#c6d86a"/><path d="M435 286h3v1h-3zM436 285h1v3h-1zM434 292h3v1h-3zM435 291h1v3h-1zM463 293h3v1h-3zM464 292h1v3h-1zM449 322h3v1h-3zM450 321h1v3h-1zM351 161h3v1h-3zM352 160h1v3h-1zM330 301h3v1h-3zM331 300h1v3h-1zM385 312h3v1h-3zM386 311h1v3h-1zM395 231h3v1h-3zM396 230h1v3h-1zM369 223h3v1h-3zM370 222h1v3h-1zM363 231h3v1h-3zM364 230h1v3h-1zM371 228h3v1h-3zM372 227h1v3h-1zM380 295h3v1h-3zM381 294h1v3h-1zM382 292h3v1h-3zM383 291h1v3h-1z" fill="#3a86d8"/><path d="M304 238h3v1h-3zM305 237h1v3h-1zM447 304h3v1h-3zM448 303h1v3h-1zM422 312h3v1h-3zM423 311h1v3h-1zM437 312h3v1h-3zM438 311h1v3h-1zM359 167h3v1h-3zM360 166h1v3h-1zM359 302h3v1h-3zM360 301h1v3h-1zM332 325h3v1h-3zM333 324h1v3h-1zM383 329h3v1h-3zM384 328h1v3h-1zM397 323h3v1h-3zM398 322h1v3h-1zM360 278h3v1h-3zM361 277h1v3h-1zM391 250h3v1h-3zM392 249h1v3h-1zM339 237h3v1h-3zM340 236h1v3h-1zM358 203h3v1h-3zM359 202h1v3h-1zM364 225h3v1h-3zM365 224h1v3h-1zM369 225h3v1h-3zM370 224h1v3h-1zM359 237h3v1h-3zM360 236h1v3h-1zM368 241h3v1h-3zM369 240h1v3h-1zM374 241h3v1h-3zM375 240h1v3h-1zM368 249h3v1h-3zM369 248h1v3h-1zM374 258h3v1h-3zM375 257h1v3h-1zM378 254h3v1h-3zM379 253h1v3h-1zM377 264h3v1h-3zM378 263h1v3h-1zM401 288h3v1h-3zM402 287h1v3h-1zM392 289h3v1h-3zM393 288h1v3h-1z" fill="#3a86d8"/><path d="M237 305h3v1h-3zM238 304h1v3h-1zM272 334h3v1h-3zM273 333h1v3h-1zM532 330h3v1h-3zM533 329h1v3h-1zM461 298h3v1h-3zM462 297h1v3h-1zM446 321h3v1h-3zM447 320h1v3h-1zM348 143h3v1h-3zM349 142h1v3h-1zM342 280h3v1h-3zM343 279h1v3h-1zM352 282h3v1h-3zM353 281h1v3h-1zM386 217h3v1h-3zM387 216h1v3h-1zM348 196h3v1h-3zM349 195h1v3h-1zM356 205h3v1h-3zM357 204h1v3h-1zM376 209h3v1h-3zM377 208h1v3h-1zM372 208h3v1h-3zM373 207h1v3h-1zM376 207h3v1h-3zM377 206h1v3h-1zM374 210h3v1h-3zM375 209h1v3h-1zM349 212h3v1h-3zM350 211h1v3h-1zM366 213h3v1h-3zM367 212h1v3h-1zM374 213h3v1h-3zM375 212h1v3h-1zM372 216h3v1h-3zM373 215h1v3h-1zM378 226h3v1h-3zM379 225h1v3h-1zM356 230h3v1h-3zM357 229h1v3h-1zM369 234h3v1h-3zM370 233h1v3h-1zM377 231h3v1h-3zM378 230h1v3h-1zM380 235h3v1h-3zM381 234h1v3h-1zM347 240h3v1h-3zM348 239h1v3h-1zM357 244h3v1h-3zM358 243h1v3h-1zM359 252h3v1h-3zM360 251h1v3h-1zM370 253h3v1h-3zM371 252h1v3h-1zM369 258h3v1h-3zM370 257h1v3h-1zM369 263h3v1h-3zM370 262h1v3h-1zM369 273h3v1h-3zM370 272h1v3h-1z" fill="#5b6614"/><path d="M238 305h1v1h-1zM273 334h1v1h-1zM533 330h1v1h-1zM462 298h1v1h-1zM447 321h1v1h-1zM349 143h1v1h-1zM343 280h1v1h-1zM353 282h1v1h-1zM387 217h1v1h-1zM349 196h1v1h-1zM357 205h1v1h-1zM377 209h1v1h-1zM373 208h1v1h-1zM377 207h1v1h-1zM375 210h1v1h-1zM350 212h1v1h-1zM367 213h1v1h-1zM375 213h1v1h-1zM373 216h1v1h-1zM379 226h1v1h-1zM357 230h1v1h-1zM370 234h1v1h-1zM378 231h1v1h-1zM381 235h1v1h-1zM348 240h1v1h-1zM358 244h1v1h-1zM360 252h1v1h-1zM371 253h1v1h-1zM370 258h1v1h-1zM370 263h1v1h-1zM370 273h1v1h-1z" fill="#c6d86a"/><path d="M680 334h3v1h-3zM681 333h1v3h-1zM687 328h3v1h-3zM688 327h1v3h-1zM485 328h3v1h-3zM486 327h1v3h-1zM447 273h3v1h-3zM448 272h1v3h-1zM333 166h3v1h-3zM334 165h1v3h-1zM338 312h3v1h-3zM339 311h1v3h-1zM413 313h3v1h-3zM414 312h1v3h-1zM395 326h3v1h-3zM396 325h1v3h-1zM351 292h3v1h-3zM352 291h1v3h-1zM377 280h3v1h-3zM378 279h1v3h-1zM392 201h3v1h-3zM393 200h1v3h-1zM397 220h3v1h-3zM398 219h1v3h-1zM392 263h3v1h-3zM393 262h1v3h-1zM395 263h3v1h-3zM396 262h1v3h-1zM403 268h3v1h-3zM404 267h1v3h-1zM389 271h3v1h-3zM390 270h1v3h-1zM391 273h3v1h-3zM392 272h1v3h-1zM439 284h3v1h-3zM440 283h1v3h-1zM351 197h3v1h-3zM352 196h1v3h-1zM361 200h3v1h-3zM362 199h1v3h-1zM362 206h3v1h-3zM363 205h1v3h-1zM378 208h3v1h-3zM379 207h1v3h-1zM362 215h3v1h-3zM363 214h1v3h-1zM376 219h3v1h-3zM377 218h1v3h-1zM375 216h3v1h-3zM376 215h1v3h-1zM360 223h3v1h-3zM361 222h1v3h-1zM377 222h3v1h-3zM378 221h1v3h-1zM372 229h3v1h-3zM373 228h1v3h-1zM349 239h3v1h-3zM350 238h1v3h-1zM372 243h3v1h-3zM373 242h1v3h-1zM347 245h3v1h-3zM348 244h1v3h-1zM359 247h3v1h-3zM360 246h1v3h-1zM368 247h3v1h-3zM369 246h1v3h-1zM365 244h3v1h-3zM366 243h1v3h-1zM370 244h3v1h-3zM371 243h1v3h-1zM357 255h3v1h-3zM358 254h1v3h-1zM361 255h3v1h-3zM362 254h1v3h-1zM358 261h3v1h-3zM359 260h1v3h-1zM363 264h3v1h-3zM364 263h1v3h-1zM411 292h3v1h-3zM412 291h1v3h-1zM389 292h3v1h-3zM390 291h1v3h-1zM369 212h3v1h-3zM370 211h1v3h-1zM369 236h3v1h-3zM370 235h1v3h-1zM369 319h3v1h-3zM370 318h1v3h-1z" fill="#5b6614"/><path d="M681 334h1v1h-1zM688 328h1v1h-1zM486 328h1v1h-1zM448 273h1v1h-1zM334 166h1v1h-1zM339 312h1v1h-1zM414 313h1v1h-1zM396 326h1v1h-1zM352 292h1v1h-1zM378 280h1v1h-1zM393 201h1v1h-1zM398 220h1v1h-1zM393 263h1v1h-1zM396 263h1v1h-1zM404 268h1v1h-1zM390 271h1v1h-1zM392 273h1v1h-1zM440 284h1v1h-1zM352 197h1v1h-1zM362 200h1v1h-1zM363 206h1v1h-1zM379 208h1v1h-1zM363 215h1v1h-1zM377 219h1v1h-1zM376 216h1v1h-1zM361 223h1v1h-1zM378 222h1v1h-1zM373 229h1v1h-1zM350 239h1v1h-1zM373 243h1v1h-1zM348 245h1v1h-1zM360 247h1v1h-1zM369 247h1v1h-1zM366 244h1v1h-1zM371 244h1v1h-1zM358 255h1v1h-1zM362 255h1v1h-1zM359 261h1v1h-1zM364 264h1v1h-1zM412 292h1v1h-1zM390 292h1v1h-1zM370 212h1v1h-1zM370 236h1v1h-1zM370 319h1v1h-1z" fill="#c6d86a"/><path d="M271 284h3v1h-3zM272 283h1v3h-1zM276 333h3v1h-3zM277 332h1v3h-1zM306 332h3v1h-3zM307 331h1v3h-1zM290 214h3v1h-3zM291 213h1v3h-1zM316 231h3v1h-3zM317 230h1v3h-1zM267 256h3v1h-3zM268 255h1v3h-1zM332 259h3v1h-3zM333 258h1v3h-1zM491 314h3v1h-3zM492 313h1v3h-1zM422 283h3v1h-3zM423 282h1v3h-1zM455 302h3v1h-3zM456 301h1v3h-1zM437 305h3v1h-3zM438 304h1v3h-1zM434 324h3v1h-3zM435 323h1v3h-1zM412 318h3v1h-3zM413 317h1v3h-1zM384 296h3v1h-3zM385 295h1v3h-1zM362 214h3v1h-3zM363 213h1v3h-1zM371 214h3v1h-3zM372 213h1v3h-1zM360 236h3v1h-3zM361 235h1v3h-1zM378 237h3v1h-3zM379 236h1v3h-1zM380 243h3v1h-3zM381 242h1v3h-1zM379 236h3v1h-3zM380 235h1v3h-1zM381 259h3v1h-3zM382 258h1v3h-1zM359 269h3v1h-3zM360 268h1v3h-1zM406 297h3v1h-3zM407 296h1v3h-1zM406 299h3v1h-3zM407 298h1v3h-1z" fill="#3a86d8"/><path d="M313 276h3v1h-3zM314 275h1v3h-1zM335 308h3v1h-3zM336 307h1v3h-1zM415 298h3v1h-3zM416 297h1v3h-1zM466 302h3v1h-3zM467 301h1v3h-1zM427 308h3v1h-3zM428 307h1v3h-1zM474 309h3v1h-3zM475 308h1v3h-1zM363 127h3v1h-3zM364 126h1v3h-1zM343 325h3v1h-3zM344 324h1v3h-1zM375 283h3v1h-3zM376 282h1v3h-1zM396 284h3v1h-3zM397 283h1v3h-1zM346 216h3v1h-3zM347 215h1v3h-1zM349 223h3v1h-3zM350 222h1v3h-1zM367 224h3v1h-3zM368 223h1v3h-1zM366 221h3v1h-3zM367 220h1v3h-1zM352 235h3v1h-3zM353 234h1v3h-1zM370 228h3v1h-3zM371 227h1v3h-1zM378 233h3v1h-3zM379 232h1v3h-1zM374 243h3v1h-3zM375 242h1v3h-1zM370 246h3v1h-3zM371 245h1v3h-1zM378 248h3v1h-3zM379 247h1v3h-1zM378 261h3v1h-3zM379 260h1v3h-1zM378 261h3v1h-3zM379 260h1v3h-1zM362 271h3v1h-3zM363 270h1v3h-1zM380 269h3v1h-3zM381 268h1v3h-1zM398 294h3v1h-3zM399 293h1v3h-1zM369 300h3v1h-3zM370 299h1v3h-1zM369 301h3v1h-3zM370 300h1v3h-1z" fill="#3a86d8"/><path d="M300 277h3v1h-3zM301 276h1v3h-1zM327 230h3v1h-3zM328 229h1v3h-1zM436 270h3v1h-3zM437 269h1v3h-1zM468 292h3v1h-3zM469 291h1v3h-1zM467 294h3v1h-3zM468 293h1v3h-1zM461 317h3v1h-3zM462 316h1v3h-1zM357 156h3v1h-3zM358 155h1v3h-1zM350 294h3v1h-3zM351 293h1v3h-1zM374 280h3v1h-3zM375 279h1v3h-1zM381 297h3v1h-3zM382 296h1v3h-1zM415 283h3v1h-3zM416 282h1v3h-1zM337 240h3v1h-3zM338 239h1v3h-1zM348 197h3v1h-3zM349 196h1v3h-1zM366 201h3v1h-3zM367 200h1v3h-1zM361 203h3v1h-3zM362 202h1v3h-1zM366 198h3v1h-3zM367 197h1v3h-1zM347 209h3v1h-3zM348 208h1v3h-1zM358 205h3v1h-3zM359 204h1v3h-1zM370 210h3v1h-3zM371 209h1v3h-1zM350 212h3v1h-3zM351 211h1v3h-1zM368 213h3v1h-3zM369 212h1v3h-1zM362 216h3v1h-3zM363 215h1v3h-1zM380 218h3v1h-3zM381 217h1v3h-1zM353 224h3v1h-3zM354 223h1v3h-1zM363 221h3v1h-3zM364 220h1v3h-1zM370 226h3v1h-3zM371 225h1v3h-1zM383 226h3v1h-3zM384 225h1v3h-1zM350 235h3v1h-3zM351 234h1v3h-1zM358 229h3v1h-3zM359 228h1v3h-1zM376 236h3v1h-3zM377 235h1v3h-1zM377 241h3v1h-3zM378 240h1v3h-1zM362 249h3v1h-3zM363 248h1v3h-1zM369 244h3v1h-3zM370 243h1v3h-1zM360 256h3v1h-3zM361 255h1v3h-1zM368 253h3v1h-3zM369 252h1v3h-1zM386 294h3v1h-3zM387 293h1v3h-1zM406 297h3v1h-3zM407 296h1v3h-1zM381 289h3v1h-3zM382 288h1v3h-1zM369 266h3v1h-3zM370 265h1v3h-1z" fill="#5b6614"/><path d="M301 277h1v1h-1zM328 230h1v1h-1zM437 270h1v1h-1zM469 292h1v1h-1zM468 294h1v1h-1zM462 317h1v1h-1zM358 156h1v1h-1zM351 294h1v1h-1zM375 280h1v1h-1zM382 297h1v1h-1zM416 283h1v1h-1zM338 240h1v1h-1zM349 197h1v1h-1zM367 201h1v1h-1zM362 203h1v1h-1zM367 198h1v1h-1zM348 209h1v1h-1zM359 205h1v1h-1zM371 210h1v1h-1zM351 212h1v1h-1zM369 213h1v1h-1zM363 216h1v1h-1zM381 218h1v1h-1zM354 224h1v1h-1zM364 221h1v1h-1zM371 226h1v1h-1zM384 226h1v1h-1zM351 235h1v1h-1zM359 229h1v1h-1zM377 236h1v1h-1zM378 241h1v1h-1zM363 249h1v1h-1zM370 244h1v1h-1zM361 256h1v1h-1zM369 253h1v1h-1zM387 294h1v1h-1zM407 297h1v1h-1zM382 289h1v1h-1zM370 266h1v1h-1z" fill="#c6d86a"/><path d="M318 311h3v1h-3zM319 310h1v3h-1zM315 328h3v1h-3zM316 327h1v3h-1zM540 332h3v1h-3zM541 331h1v3h-1zM362 181h3v1h-3zM363 180h1v3h-1zM379 276h3v1h-3zM380 275h1v3h-1zM381 287h3v1h-3zM382 286h1v3h-1zM382 294h3v1h-3zM383 293h1v3h-1zM394 242h3v1h-3zM395 241h1v3h-1zM361 199h3v1h-3zM362 198h1v3h-1zM349 205h3v1h-3zM350 204h1v3h-1zM356 211h3v1h-3zM357 210h1v3h-1zM363 211h3v1h-3zM364 210h1v3h-1zM370 207h3v1h-3zM371 206h1v3h-1zM345 222h3v1h-3zM346 221h1v3h-1zM353 220h3v1h-3zM354 219h1v3h-1zM366 224h3v1h-3zM367 223h1v3h-1zM372 227h3v1h-3zM373 226h1v3h-1zM376 223h3v1h-3zM377 222h1v3h-1zM378 226h3v1h-3zM379 225h1v3h-1zM379 221h3v1h-3zM380 220h1v3h-1zM352 230h3v1h-3zM353 229h1v3h-1zM358 232h3v1h-3zM359 231h1v3h-1zM371 231h3v1h-3zM372 230h1v3h-1zM375 237h3v1h-3zM376 236h1v3h-1zM365 249h3v1h-3zM366 248h1v3h-1zM378 256h3v1h-3zM379 255h1v3h-1zM383 260h3v1h-3zM384 259h1v3h-1zM377 260h3v1h-3zM378 259h1v3h-1zM384 270h3v1h-3zM385 269h1v3h-1zM406 292h3v1h-3zM407 291h1v3h-1zM393 296h3v1h-3zM394 295h1v3h-1zM369 280h3v1h-3zM370 279h1v3h-1zM369 283h3v1h-3zM370 282h1v3h-1z" fill="#5b6614"/><path d="M319 311h1v1h-1zM316 328h1v1h-1zM541 332h1v1h-1zM363 181h1v1h-1zM380 276h1v1h-1zM382 287h1v1h-1zM383 294h1v1h-1zM395 242h1v1h-1zM362 199h1v1h-1zM350 205h1v1h-1zM357 211h1v1h-1zM364 211h1v1h-1zM371 207h1v1h-1zM346 222h1v1h-1zM354 220h1v1h-1zM367 224h1v1h-1zM373 227h1v1h-1zM377 223h1v1h-1zM379 226h1v1h-1zM380 221h1v1h-1zM353 230h1v1h-1zM359 232h1v1h-1zM372 231h1v1h-1zM376 237h1v1h-1zM366 249h1v1h-1zM379 256h1v1h-1zM384 260h1v1h-1zM378 260h1v1h-1zM385 270h1v1h-1zM407 292h1v1h-1zM394 296h1v1h-1zM370 280h1v1h-1zM370 283h1v1h-1z" fill="#c6d86a"/><path d="M320 295h3v1h-3zM321 294h1v3h-1zM203 333h3v1h-3zM204 332h1v3h-1zM298 327h3v1h-3zM299 326h1v3h-1zM334 212h3v1h-3zM335 211h1v3h-1zM295 248h3v1h-3zM296 247h1v3h-1zM327 239h3v1h-3zM328 238h1v3h-1zM481 318h3v1h-3zM482 317h1v3h-1zM336 308h3v1h-3zM337 307h1v3h-1zM358 309h3v1h-3zM359 308h1v3h-1zM333 328h3v1h-3zM334 327h1v3h-1zM421 326h3v1h-3zM422 325h1v3h-1zM337 278h3v1h-3zM338 277h1v3h-1zM374 289h3v1h-3zM375 288h1v3h-1zM376 204h3v1h-3zM377 203h1v3h-1zM373 220h3v1h-3zM374 219h1v3h-1zM375 225h3v1h-3zM376 224h1v3h-1zM383 223h3v1h-3zM384 222h1v3h-1zM352 230h3v1h-3zM353 229h1v3h-1zM355 233h3v1h-3zM356 232h1v3h-1zM360 231h3v1h-3zM361 230h1v3h-1zM365 229h3v1h-3zM366 228h1v3h-1zM371 228h3v1h-3zM372 227h1v3h-1zM383 234h3v1h-3zM384 233h1v3h-1zM375 245h3v1h-3zM376 244h1v3h-1zM382 246h3v1h-3zM383 245h1v3h-1zM380 247h3v1h-3zM381 246h1v3h-1zM359 267h3v1h-3zM360 266h1v3h-1zM369 303h3v1h-3zM370 302h1v3h-1zM369 304h3v1h-3zM370 303h1v3h-1z" fill="#3a86d8"/><path d="M281 283h3v1h-3zM282 282h1v3h-1zM309 276h3v1h-3zM310 275h1v3h-1zM262 232h3v1h-3zM263 231h1v3h-1zM333 223h3v1h-3zM334 222h1v3h-1zM315 251h3v1h-3zM316 250h1v3h-1zM420 266h3v1h-3zM421 265h1v3h-1zM443 317h3v1h-3zM444 316h1v3h-1zM333 142h3v1h-3zM334 141h1v3h-1zM361 159h3v1h-3zM362 158h1v3h-1zM438 333h3v1h-3zM439 332h1v3h-1zM332 282h3v1h-3zM333 281h1v3h-1zM385 279h3v1h-3zM386 278h1v3h-1zM391 253h3v1h-3zM392 252h1v3h-1zM380 213h3v1h-3zM381 212h1v3h-1zM346 221h3v1h-3zM347 220h1v3h-1zM359 230h3v1h-3zM360 229h1v3h-1zM353 233h3v1h-3zM354 232h1v3h-1zM358 236h3v1h-3zM359 235h1v3h-1zM380 237h3v1h-3zM381 236h1v3h-1zM355 246h3v1h-3zM356 245h1v3h-1zM363 252h3v1h-3zM364 251h1v3h-1zM391 286h3v1h-3zM392 285h1v3h-1zM369 311h3v1h-3zM370 310h1v3h-1z" fill="#3a86d8"/><path d="M287 278h3v1h-3zM288 277h1v3h-1zM327 277h3v1h-3zM328 276h1v3h-1zM219 328h3v1h-3zM220 327h1v3h-1zM554 320h3v1h-3zM555 319h1v3h-1zM501 334h3v1h-3zM502 333h1v3h-1zM424 258h3v1h-3zM425 257h1v3h-1zM481 294h3v1h-3zM482 293h1v3h-1zM415 294h3v1h-3zM416 293h1v3h-1zM415 314h3v1h-3zM416 313h1v3h-1zM375 187h3v1h-3zM376 186h1v3h-1zM339 291h3v1h-3zM340 290h1v3h-1zM388 293h3v1h-3zM389 292h1v3h-1zM362 200h3v1h-3zM363 199h1v3h-1zM375 197h3v1h-3zM376 196h1v3h-1zM348 207h3v1h-3zM349 206h1v3h-1zM363 204h3v1h-3zM364 203h1v3h-1zM345 214h3v1h-3zM346 213h1v3h-1zM374 212h3v1h-3zM375 211h1v3h-1zM356 220h3v1h-3zM357 219h1v3h-1zM356 227h3v1h-3zM357 226h1v3h-1zM365 226h3v1h-3zM366 225h1v3h-1zM366 228h3v1h-3zM367 227h1v3h-1zM367 241h3v1h-3zM368 240h1v3h-1zM383 237h3v1h-3zM384 236h1v3h-1zM356 264h3v1h-3zM357 263h1v3h-1zM373 268h3v1h-3zM374 267h1v3h-1zM389 286h3v1h-3zM390 285h1v3h-1zM380 297h3v1h-3zM381 296h1v3h-1zM369 246h3v1h-3zM370 245h1v3h-1zM369 252h3v1h-3zM370 251h1v3h-1zM369 259h3v1h-3zM370 258h1v3h-1z" fill="#5b6614"/><path d="M288 278h1v1h-1zM328 277h1v1h-1zM220 328h1v1h-1zM555 320h1v1h-1zM502 334h1v1h-1zM425 258h1v1h-1zM482 294h1v1h-1zM416 294h1v1h-1zM416 314h1v1h-1zM376 187h1v1h-1zM340 291h1v1h-1zM389 293h1v1h-1zM363 200h1v1h-1zM376 197h1v1h-1zM349 207h1v1h-1zM364 204h1v1h-1zM346 214h1v1h-1zM375 212h1v1h-1zM357 220h1v1h-1zM357 227h1v1h-1zM366 226h1v1h-1zM367 228h1v1h-1zM368 241h1v1h-1zM384 237h1v1h-1zM357 264h1v1h-1zM374 268h1v1h-1zM390 286h1v1h-1zM381 297h1v1h-1zM370 246h1v1h-1zM370 252h1v1h-1zM370 259h1v1h-1z" fill="#c6d86a"/><path d="M90 331h3v1h-3zM91 330h1v3h-1zM315 216h3v1h-3zM316 215h1v3h-1zM318 151h3v1h-3zM319 150h1v3h-1zM486 325h3v1h-3zM487 324h1v3h-1zM442 295h3v1h-3zM443 294h1v3h-1zM482 299h3v1h-3zM483 298h1v3h-1zM462 323h3v1h-3zM463 322h1v3h-1zM349 118h3v1h-3zM350 117h1v3h-1zM361 180h3v1h-3zM362 179h1v3h-1zM339 305h3v1h-3zM340 304h1v3h-1zM389 305h3v1h-3zM390 304h1v3h-1zM401 324h3v1h-3zM402 323h1v3h-1zM409 334h3v1h-3zM410 333h1v3h-1zM347 277h3v1h-3zM348 276h1v3h-1zM387 279h3v1h-3zM388 278h1v3h-1zM377 294h3v1h-3zM378 293h1v3h-1zM373 297h3v1h-3zM374 296h1v3h-1zM409 275h3v1h-3zM410 274h1v3h-1zM378 208h3v1h-3zM379 207h1v3h-1zM348 216h3v1h-3zM349 215h1v3h-1zM355 214h3v1h-3zM356 213h1v3h-1zM375 219h3v1h-3zM376 218h1v3h-1zM348 220h3v1h-3zM349 219h1v3h-1zM372 222h3v1h-3zM373 221h1v3h-1zM370 226h3v1h-3zM371 225h1v3h-1zM366 235h3v1h-3zM367 234h1v3h-1zM369 230h3v1h-3zM370 229h1v3h-1zM369 228h3v1h-3zM370 227h1v3h-1zM379 234h3v1h-3zM380 233h1v3h-1zM360 248h3v1h-3zM361 247h1v3h-1zM379 251h3v1h-3zM380 250h1v3h-1zM357 262h3v1h-3zM358 261h1v3h-1zM383 262h3v1h-3zM384 261h1v3h-1zM369 224h3v1h-3zM370 223h1v3h-1zM369 262h3v1h-3zM370 261h1v3h-1zM369 324h3v1h-3zM370 323h1v3h-1z" fill="#5b6614"/><path d="M91 331h1v1h-1zM316 216h1v1h-1zM319 151h1v1h-1zM487 325h1v1h-1zM443 295h1v1h-1zM483 299h1v1h-1zM463 323h1v1h-1zM350 118h1v1h-1zM362 180h1v1h-1zM340 305h1v1h-1zM390 305h1v1h-1zM402 324h1v1h-1zM410 334h1v1h-1zM348 277h1v1h-1zM388 279h1v1h-1zM378 294h1v1h-1zM374 297h1v1h-1zM410 275h1v1h-1zM379 208h1v1h-1zM349 216h1v1h-1zM356 214h1v1h-1zM376 219h1v1h-1zM349 220h1v1h-1zM373 222h1v1h-1zM371 226h1v1h-1zM367 235h1v1h-1zM370 230h1v1h-1zM370 228h1v1h-1zM380 234h1v1h-1zM361 248h1v1h-1zM380 251h1v1h-1zM358 262h1v1h-1zM384 262h1v1h-1zM370 224h1v1h-1zM370 262h1v1h-1zM370 324h1v1h-1z" fill="#c6d86a"/><path d="M185 335h3v1h-3zM186 334h1v3h-1zM325 323h3v1h-3zM326 322h1v3h-1zM333 328h3v1h-3zM334 327h1v3h-1zM291 241h3v1h-3zM292 240h1v3h-1zM457 304h3v1h-3zM458 303h1v3h-1zM369 142h3v1h-3zM370 141h1v3h-1zM456 333h3v1h-3zM457 332h1v3h-1zM360 298h3v1h-3zM361 297h1v3h-1zM402 264h3v1h-3zM403 263h1v3h-1zM414 284h3v1h-3zM415 283h1v3h-1zM355 212h3v1h-3zM356 211h1v3h-1zM367 215h3v1h-3zM368 214h1v3h-1zM357 233h3v1h-3zM358 232h1v3h-1zM361 234h3v1h-3zM362 233h1v3h-1zM379 235h3v1h-3zM380 234h1v3h-1zM374 255h3v1h-3zM375 254h1v3h-1zM366 269h3v1h-3zM367 268h1v3h-1zM410 299h3v1h-3zM411 298h1v3h-1zM397 287h3v1h-3zM398 286h1v3h-1zM371 293h3v1h-3zM372 292h1v3h-1zM369 316h3v1h-3zM370 315h1v3h-1z" fill="#3a86d8"/><path d="M325 220h3v1h-3zM326 219h1v3h-1zM270 222h3v1h-3zM271 221h1v3h-1zM462 318h3v1h-3zM463 317h1v3h-1zM439 323h3v1h-3zM440 322h1v3h-1zM460 322h3v1h-3zM461 321h1v3h-1zM340 148h3v1h-3zM341 147h1v3h-1zM355 188h3v1h-3zM356 187h1v3h-1zM347 314h3v1h-3zM348 313h1v3h-1zM388 333h3v1h-3zM389 332h1v3h-1zM407 319h3v1h-3zM408 318h1v3h-1zM379 287h3v1h-3zM380 286h1v3h-1zM361 205h3v1h-3zM362 204h1v3h-1zM374 211h3v1h-3zM375 210h1v3h-1zM378 207h3v1h-3zM379 206h1v3h-1zM373 216h3v1h-3zM374 215h1v3h-1zM379 221h3v1h-3zM380 220h1v3h-1zM367 231h3v1h-3zM368 230h1v3h-1zM372 229h3v1h-3zM373 228h1v3h-1zM371 229h3v1h-3zM372 228h1v3h-1zM382 230h3v1h-3zM383 229h1v3h-1zM382 238h3v1h-3zM383 237h1v3h-1zM374 265h3v1h-3zM375 264h1v3h-1zM382 263h3v1h-3zM383 262h1v3h-1zM349 271h3v1h-3zM350 270h1v3h-1zM369 314h3v1h-3zM370 313h1v3h-1z" fill="#3a86d8"/><path d="M263 287h3v1h-3zM264 286h1v3h-1zM320 312h3v1h-3zM321 311h1v3h-1zM332 243h3v1h-3zM333 242h1v3h-1zM307 158h3v1h-3zM308 157h1v3h-1zM582 330h3v1h-3zM583 329h1v3h-1zM487 295h3v1h-3zM488 294h1v3h-1zM417 313h3v1h-3zM418 312h1v3h-1zM354 158h3v1h-3zM355 157h1v3h-1zM361 191h3v1h-3zM362 190h1v3h-1zM438 330h3v1h-3zM439 329h1v3h-1zM386 295h3v1h-3zM387 294h1v3h-1zM380 298h3v1h-3zM381 297h1v3h-1zM385 214h3v1h-3zM386 213h1v3h-1zM393 225h3v1h-3zM394 224h1v3h-1zM399 256h3v1h-3zM400 255h1v3h-1zM391 257h3v1h-3zM392 256h1v3h-1zM351 196h3v1h-3zM352 195h1v3h-1zM365 207h3v1h-3zM366 206h1v3h-1zM372 208h3v1h-3zM373 207h1v3h-1zM361 221h3v1h-3zM362 220h1v3h-1zM370 220h3v1h-3zM371 219h1v3h-1zM371 230h3v1h-3zM372 229h1v3h-1zM377 233h3v1h-3zM378 232h1v3h-1zM354 242h3v1h-3zM355 241h1v3h-1zM378 239h3v1h-3zM379 238h1v3h-1zM369 232h3v1h-3zM370 231h1v3h-1zM369 265h3v1h-3zM370 264h1v3h-1zM369 275h3v1h-3zM370 274h1v3h-1zM369 287h3v1h-3zM370 286h1v3h-1zM369 310h3v1h-3zM370 309h1v3h-1zM369 322h3v1h-3zM370 321h1v3h-1z" fill="#5b6614"/><path d="M264 287h1v1h-1zM321 312h1v1h-1zM333 243h1v1h-1zM308 158h1v1h-1zM583 330h1v1h-1zM488 295h1v1h-1zM418 313h1v1h-1zM355 158h1v1h-1zM362 191h1v1h-1zM439 330h1v1h-1zM387 295h1v1h-1zM381 298h1v1h-1zM386 214h1v1h-1zM394 225h1v1h-1zM400 256h1v1h-1zM392 257h1v1h-1zM352 196h1v1h-1zM366 207h1v1h-1zM373 208h1v1h-1zM362 221h1v1h-1zM371 220h1v1h-1zM372 230h1v1h-1zM378 233h1v1h-1zM355 242h1v1h-1zM379 239h1v1h-1zM370 232h1v1h-1zM370 265h1v1h-1zM370 275h1v1h-1zM370 287h1v1h-1zM370 310h1v1h-1zM370 322h1v1h-1z" fill="#c6d86a"/><path d="M280 317h3v1h-3zM281 316h1v3h-1zM233 334h3v1h-3zM234 333h1v3h-1zM307 332h3v1h-3zM308 331h1v3h-1zM310 216h3v1h-3zM311 215h1v3h-1zM323 142h3v1h-3zM324 141h1v3h-1zM329 189h3v1h-3zM330 188h1v3h-1zM554 322h3v1h-3zM555 321h1v3h-1zM416 259h3v1h-3zM417 258h1v3h-1zM458 272h3v1h-3zM459 271h1v3h-1zM433 285h3v1h-3zM434 284h1v3h-1zM474 323h3v1h-3zM475 322h1v3h-1zM338 119h3v1h-3zM339 118h1v3h-1zM351 120h3v1h-3zM352 119h1v3h-1zM346 185h3v1h-3zM347 184h1v3h-1zM348 293h3v1h-3zM349 292h1v3h-1zM375 272h3v1h-3zM376 271h1v3h-1zM383 272h3v1h-3zM384 271h1v3h-1zM389 247h3v1h-3zM390 246h1v3h-1zM386 275h3v1h-3zM387 274h1v3h-1zM388 276h3v1h-3zM389 275h1v3h-1zM408 276h3v1h-3zM409 275h1v3h-1zM402 284h3v1h-3zM403 283h1v3h-1zM353 213h3v1h-3zM354 212h1v3h-1zM353 216h3v1h-3zM354 215h1v3h-1zM373 216h3v1h-3zM374 215h1v3h-1zM345 228h3v1h-3zM346 227h1v3h-1zM372 230h3v1h-3zM373 229h1v3h-1zM381 230h3v1h-3zM382 229h1v3h-1zM358 240h3v1h-3zM359 239h1v3h-1zM367 243h3v1h-3zM368 242h1v3h-1zM365 242h3v1h-3zM366 241h1v3h-1zM365 242h3v1h-3zM366 241h1v3h-1zM374 242h3v1h-3zM375 241h1v3h-1zM384 237h3v1h-3zM385 236h1v3h-1zM349 248h3v1h-3zM350 247h1v3h-1zM374 251h3v1h-3zM375 250h1v3h-1zM361 257h3v1h-3zM362 256h1v3h-1zM375 252h3v1h-3zM376 251h1v3h-1zM345 262h3v1h-3zM346 261h1v3h-1zM354 267h3v1h-3zM355 266h1v3h-1zM393 288h3v1h-3zM394 287h1v3h-1zM369 200h3v1h-3zM370 199h1v3h-1zM369 299h3v1h-3zM370 298h1v3h-1z" fill="#5b6614"/><path d="M281 317h1v1h-1zM234 334h1v1h-1zM308 332h1v1h-1zM311 216h1v1h-1zM324 142h1v1h-1zM330 189h1v1h-1zM555 322h1v1h-1zM417 259h1v1h-1zM459 272h1v1h-1zM434 285h1v1h-1zM475 323h1v1h-1zM339 119h1v1h-1zM352 120h1v1h-1zM347 185h1v1h-1zM349 293h1v1h-1zM376 272h1v1h-1zM384 272h1v1h-1zM390 247h1v1h-1zM387 275h1v1h-1zM389 276h1v1h-1zM409 276h1v1h-1zM403 284h1v1h-1zM354 213h1v1h-1zM354 216h1v1h-1zM374 216h1v1h-1zM346 228h1v1h-1zM373 230h1v1h-1zM382 230h1v1h-1zM359 240h1v1h-1zM368 243h1v1h-1zM366 242h1v1h-1zM366 242h1v1h-1zM375 242h1v1h-1zM385 237h1v1h-1zM350 248h1v1h-1zM375 251h1v1h-1zM362 257h1v1h-1zM376 252h1v1h-1zM346 262h1v1h-1zM355 267h1v1h-1zM394 288h1v1h-1zM370 200h1v1h-1zM370 299h1v1h-1z" fill="#c6d86a"/><path d="M513 316h3v1h-3zM514 315h1v3h-1zM479 314h3v1h-3zM480 313h1v3h-1zM434 317h3v1h-3zM435 316h1v3h-1zM359 167h3v1h-3zM360 166h1v3h-1zM375 192h3v1h-3zM376 191h1v3h-1zM378 218h3v1h-3zM379 217h1v3h-1zM363 228h3v1h-3zM364 227h1v3h-1zM374 242h3v1h-3zM375 241h1v3h-1zM372 248h3v1h-3zM373 247h1v3h-1z" fill="#3a86d8"/><path d="M298 285h3v1h-3zM299 284h1v3h-1zM324 217h3v1h-3zM325 216h1v3h-1zM441 299h3v1h-3zM442 298h1v3h-1zM478 297h3v1h-3zM479 296h1v3h-1zM461 303h3v1h-3zM462 302h1v3h-1zM368 188h3v1h-3zM369 187h1v3h-1zM384 310h3v1h-3zM385 309h1v3h-1zM416 317h3v1h-3zM417 316h1v3h-1zM363 297h3v1h-3zM364 296h1v3h-1zM388 216h3v1h-3zM389 215h1v3h-1zM385 258h3v1h-3zM386 257h1v3h-1zM397 275h3v1h-3zM398 274h1v3h-1zM370 225h3v1h-3zM371 224h1v3h-1zM380 220h3v1h-3zM381 219h1v3h-1zM371 233h3v1h-3zM372 232h1v3h-1zM374 233h3v1h-3zM375 232h1v3h-1zM361 236h3v1h-3zM362 235h1v3h-1zM368 253h3v1h-3zM369 252h1v3h-1zM377 256h3v1h-3zM378 255h1v3h-1zM381 258h3v1h-3zM382 257h1v3h-1zM372 269h3v1h-3zM373 268h1v3h-1zM386 292h3v1h-3zM387 291h1v3h-1zM384 291h3v1h-3zM385 290h1v3h-1z" fill="#3a86d8"/><path d="M317 334h3v1h-3zM318 333h1v3h-1zM297 201h3v1h-3zM298 200h1v3h-1zM319 241h3v1h-3zM320 240h1v3h-1zM418 274h3v1h-3zM419 273h1v3h-1zM456 289h3v1h-3zM457 288h1v3h-1zM448 293h3v1h-3zM449 292h1v3h-1zM434 295h3v1h-3zM435 294h1v3h-1zM360 325h3v1h-3zM361 324h1v3h-1zM343 291h3v1h-3zM344 290h1v3h-1zM393 226h3v1h-3zM394 225h1v3h-1zM389 258h3v1h-3zM390 257h1v3h-1zM399 258h3v1h-3zM400 257h1v3h-1zM355 200h3v1h-3zM356 199h1v3h-1zM371 198h3v1h-3zM372 197h1v3h-1zM348 214h3v1h-3zM349 213h1v3h-1zM368 216h3v1h-3zM369 215h1v3h-1zM359 224h3v1h-3zM360 223h1v3h-1zM361 227h3v1h-3zM362 226h1v3h-1zM384 222h3v1h-3zM385 221h1v3h-1zM345 228h3v1h-3zM346 227h1v3h-1zM353 234h3v1h-3zM354 233h1v3h-1zM356 232h3v1h-3zM357 231h1v3h-1zM364 228h3v1h-3zM365 227h1v3h-1zM361 228h3v1h-3zM362 227h1v3h-1zM349 242h3v1h-3zM350 241h1v3h-1zM355 240h3v1h-3zM356 239h1v3h-1zM375 238h3v1h-3zM376 237h1v3h-1zM377 243h3v1h-3zM378 242h1v3h-1zM347 251h3v1h-3zM348 250h1v3h-1zM370 250h3v1h-3zM371 249h1v3h-1zM355 255h3v1h-3zM356 254h1v3h-1zM349 263h3v1h-3zM350 262h1v3h-1zM359 261h3v1h-3zM360 260h1v3h-1zM375 267h3v1h-3zM376 266h1v3h-1zM405 287h3v1h-3zM406 286h1v3h-1zM412 292h3v1h-3zM413 291h1v3h-1zM397 296h3v1h-3zM398 295h1v3h-1zM369 256h3v1h-3zM370 255h1v3h-1zM369 296h3v1h-3zM370 295h1v3h-1z" fill="#5b6614"/><path d="M318 334h1v1h-1zM298 201h1v1h-1zM320 241h1v1h-1zM419 274h1v1h-1zM457 289h1v1h-1zM449 293h1v1h-1zM435 295h1v1h-1zM361 325h1v1h-1zM344 291h1v1h-1zM394 226h1v1h-1zM390 258h1v1h-1zM400 258h1v1h-1zM356 200h1v1h-1zM372 198h1v1h-1zM349 214h1v1h-1zM369 216h1v1h-1zM360 224h1v1h-1zM362 227h1v1h-1zM385 222h1v1h-1zM346 228h1v1h-1zM354 234h1v1h-1zM357 232h1v1h-1zM365 228h1v1h-1zM362 228h1v1h-1zM350 242h1v1h-1zM356 240h1v1h-1zM376 238h1v1h-1zM378 243h1v1h-1zM348 251h1v1h-1zM371 250h1v1h-1zM356 255h1v1h-1zM350 263h1v1h-1zM360 261h1v1h-1zM376 267h1v1h-1zM406 287h1v1h-1zM413 292h1v1h-1zM398 296h1v1h-1zM370 256h1v1h-1zM370 296h1v1h-1z" fill="#c6d86a"/><path d="M194 312h3v1h-3zM195 311h1v3h-1zM328 311h3v1h-3zM329 310h1v3h-1zM323 209h3v1h-3zM324 208h1v3h-1zM322 151h3v1h-3zM323 150h1v3h-1zM323 162h3v1h-3zM324 161h1v3h-1zM588 334h3v1h-3zM589 333h1v3h-1zM489 297h3v1h-3zM490 296h1v3h-1zM527 317h3v1h-3zM528 316h1v3h-1zM468 299h3v1h-3zM469 298h1v3h-1zM355 149h3v1h-3zM356 148h1v3h-1zM365 325h3v1h-3zM366 324h1v3h-1zM381 275h3v1h-3zM382 274h1v3h-1zM385 268h3v1h-3zM386 267h1v3h-1zM412 265h3v1h-3zM413 264h1v3h-1zM358 203h3v1h-3zM359 202h1v3h-1zM355 199h3v1h-3zM356 198h1v3h-1zM363 206h3v1h-3zM364 205h1v3h-1zM356 216h3v1h-3zM357 215h1v3h-1zM363 217h3v1h-3zM364 216h1v3h-1zM378 216h3v1h-3zM379 215h1v3h-1zM374 222h3v1h-3zM375 221h1v3h-1zM360 232h3v1h-3zM361 231h1v3h-1zM365 232h3v1h-3zM366 231h1v3h-1zM363 231h3v1h-3zM364 230h1v3h-1zM375 229h3v1h-3zM376 228h1v3h-1zM376 243h3v1h-3zM377 242h1v3h-1zM367 251h3v1h-3zM368 250h1v3h-1zM347 257h3v1h-3zM348 256h1v3h-1zM353 253h3v1h-3zM354 252h1v3h-1zM349 260h3v1h-3zM350 259h1v3h-1zM352 270h3v1h-3zM353 269h1v3h-1zM406 291h3v1h-3zM407 290h1v3h-1zM399 297h3v1h-3zM400 296h1v3h-1zM369 204h3v1h-3zM370 203h1v3h-1zM369 288h3v1h-3zM370 287h1v3h-1z" fill="#5b6614"/><path d="M195 312h1v1h-1zM329 311h1v1h-1zM324 209h1v1h-1zM323 151h1v1h-1zM324 162h1v1h-1zM589 334h1v1h-1zM490 297h1v1h-1zM528 317h1v1h-1zM469 299h1v1h-1zM356 149h1v1h-1zM366 325h1v1h-1zM382 275h1v1h-1zM386 268h1v1h-1zM413 265h1v1h-1zM359 203h1v1h-1zM356 199h1v1h-1zM364 206h1v1h-1zM357 216h1v1h-1zM364 217h1v1h-1zM379 216h1v1h-1zM375 222h1v1h-1zM361 232h1v1h-1zM366 232h1v1h-1zM364 231h1v1h-1zM376 229h1v1h-1zM377 243h1v1h-1zM368 251h1v1h-1zM348 257h1v1h-1zM354 253h1v1h-1zM350 260h1v1h-1zM353 270h1v1h-1zM407 291h1v1h-1zM400 297h1v1h-1zM370 204h1v1h-1zM370 288h1v1h-1z" fill="#c6d86a"/><path d="M332 282h3v1h-3zM333 281h1v3h-1zM331 310h3v1h-3zM332 309h1v3h-1zM283 230h3v1h-3zM284 229h1v3h-1zM275 266h3v1h-3zM276 265h1v3h-1zM417 291h3v1h-3zM418 290h1v3h-1zM432 297h3v1h-3zM433 296h1v3h-1zM377 292h3v1h-3zM378 291h1v3h-1zM403 243h3v1h-3zM404 242h1v3h-1zM399 276h3v1h-3zM400 275h1v3h-1zM404 278h3v1h-3zM405 277h1v3h-1zM385 278h3v1h-3zM386 277h1v3h-1zM394 281h3v1h-3zM395 280h1v3h-1zM354 202h3v1h-3zM355 201h1v3h-1zM365 204h3v1h-3zM366 203h1v3h-1zM359 233h3v1h-3zM360 232h1v3h-1zM361 228h3v1h-3zM362 227h1v3h-1zM378 234h3v1h-3zM379 233h1v3h-1zM377 236h3v1h-3zM378 235h1v3h-1zM378 246h3v1h-3zM379 245h1v3h-1zM368 255h3v1h-3zM369 254h1v3h-1zM380 257h3v1h-3zM381 256h1v3h-1zM379 267h3v1h-3zM380 266h1v3h-1zM379 269h3v1h-3zM380 268h1v3h-1zM395 292h3v1h-3zM396 291h1v3h-1zM369 334h3v1h-3zM370 333h1v3h-1zM369 335h3v1h-3zM370 334h1v3h-1z" fill="#3a86d8"/><path d="M288 294h3v1h-3zM289 293h1v3h-1zM309 324h3v1h-3zM310 323h1v3h-1zM315 332h3v1h-3zM316 331h1v3h-1zM416 288h3v1h-3zM417 287h1v3h-1zM449 300h3v1h-3zM450 299h1v3h-1zM431 305h3v1h-3zM432 304h1v3h-1zM458 306h3v1h-3zM459 305h1v3h-1zM472 314h3v1h-3zM473 313h1v3h-1zM438 316h3v1h-3zM439 315h1v3h-1zM368 165h3v1h-3zM369 164h1v3h-1zM388 333h3v1h-3zM389 332h1v3h-1zM433 331h3v1h-3zM434 330h1v3h-1zM367 284h3v1h-3zM368 283h1v3h-1zM364 207h3v1h-3zM365 206h1v3h-1zM365 217h3v1h-3zM366 216h1v3h-1zM369 227h3v1h-3zM370 226h1v3h-1zM382 220h3v1h-3zM383 219h1v3h-1zM358 241h3v1h-3zM359 240h1v3h-1zM357 240h3v1h-3zM358 239h1v3h-1zM366 243h3v1h-3zM367 242h1v3h-1zM378 240h3v1h-3zM379 239h1v3h-1zM381 251h3v1h-3zM382 250h1v3h-1zM377 247h3v1h-3zM378 246h1v3h-1zM379 253h3v1h-3zM380 252h1v3h-1zM381 268h3v1h-3zM382 267h1v3h-1zM395 297h3v1h-3zM396 296h1v3h-1zM408 296h3v1h-3zM409 295h1v3h-1zM400 297h3v1h-3zM401 296h1v3h-1z" fill="#3a86d8"/><path d="M284 334h3v1h-3zM285 333h1v3h-1zM321 252h3v1h-3zM322 251h1v3h-1zM333 166h3v1h-3zM334 165h1v3h-1zM655 335h3v1h-3zM656 334h1v3h-1zM688 334h3v1h-3zM689 333h1v3h-1zM487 325h3v1h-3zM488 324h1v3h-1zM516 325h3v1h-3zM517 324h1v3h-1zM423 270h3v1h-3zM424 269h1v3h-1zM350 127h3v1h-3zM351 126h1v3h-1zM345 145h3v1h-3zM346 144h1v3h-1zM362 143h3v1h-3zM363 142h1v3h-1zM334 182h3v1h-3zM335 181h1v3h-1zM352 191h3v1h-3zM353 190h1v3h-1zM347 193h3v1h-3zM348 192h1v3h-1zM406 316h3v1h-3zM407 315h1v3h-1zM360 291h3v1h-3zM361 290h1v3h-1zM373 282h3v1h-3zM374 281h1v3h-1zM390 221h3v1h-3zM391 220h1v3h-1zM385 243h3v1h-3zM386 242h1v3h-1zM354 197h3v1h-3zM355 196h1v3h-1zM382 201h3v1h-3zM383 200h1v3h-1zM358 204h3v1h-3zM359 203h1v3h-1zM379 211h3v1h-3zM380 210h1v3h-1zM356 217h3v1h-3zM357 216h1v3h-1zM370 212h3v1h-3zM371 211h1v3h-1zM359 225h3v1h-3zM360 224h1v3h-1zM376 225h3v1h-3zM377 224h1v3h-1zM358 236h3v1h-3zM359 235h1v3h-1zM363 237h3v1h-3zM364 236h1v3h-1zM376 243h3v1h-3zM377 242h1v3h-1zM369 236h3v1h-3zM370 235h1v3h-1zM369 241h3v1h-3zM370 240h1v3h-1zM382 246h3v1h-3zM383 245h1v3h-1zM358 257h3v1h-3zM359 256h1v3h-1zM383 259h3v1h-3zM384 258h1v3h-1zM378 252h3v1h-3zM379 251h1v3h-1zM348 263h3v1h-3zM349 262h1v3h-1zM375 268h3v1h-3zM376 267h1v3h-1zM380 271h3v1h-3zM381 270h1v3h-1zM386 297h3v1h-3zM387 296h1v3h-1zM404 290h3v1h-3zM405 289h1v3h-1zM402 295h3v1h-3zM403 294h1v3h-1zM374 293h3v1h-3zM375 292h1v3h-1zM369 297h3v1h-3zM370 296h1v3h-1z" fill="#5b6614"/><path d="M285 334h1v1h-1zM322 252h1v1h-1zM334 166h1v1h-1zM656 335h1v1h-1zM689 334h1v1h-1zM488 325h1v1h-1zM517 325h1v1h-1zM424 270h1v1h-1zM351 127h1v1h-1zM346 145h1v1h-1zM363 143h1v1h-1zM335 182h1v1h-1zM353 191h1v1h-1zM348 193h1v1h-1zM407 316h1v1h-1zM361 291h1v1h-1zM374 282h1v1h-1zM391 221h1v1h-1zM386 243h1v1h-1zM355 197h1v1h-1zM383 201h1v1h-1zM359 204h1v1h-1zM380 211h1v1h-1zM357 217h1v1h-1zM371 212h1v1h-1zM360 225h1v1h-1zM377 225h1v1h-1zM359 236h1v1h-1zM364 237h1v1h-1zM377 243h1v1h-1zM370 236h1v1h-1zM370 241h1v1h-1zM383 246h1v1h-1zM359 257h1v1h-1zM384 259h1v1h-1zM379 252h1v1h-1zM349 263h1v1h-1zM376 268h1v1h-1zM381 271h1v1h-1zM387 297h1v1h-1zM405 290h1v1h-1zM403 295h1v1h-1zM375 293h1v1h-1zM370 297h1v1h-1z" fill="#c6d86a"/><path d="M221 330h3v1h-3zM222 329h1v3h-1zM310 210h3v1h-3zM311 209h1v3h-1zM336 241h3v1h-3zM337 240h1v3h-1zM312 167h3v1h-3zM313 166h1v3h-1zM291 180h3v1h-3zM292 179h1v3h-1zM505 331h3v1h-3zM506 330h1v3h-1zM545 329h3v1h-3zM546 328h1v3h-1zM422 275h3v1h-3zM423 274h1v3h-1zM414 294h3v1h-3zM415 293h1v3h-1zM414 311h3v1h-3zM415 310h1v3h-1zM360 155h3v1h-3zM361 154h1v3h-1zM349 315h3v1h-3zM350 314h1v3h-1zM388 232h3v1h-3zM389 231h1v3h-1zM393 235h3v1h-3zM394 234h1v3h-1zM394 240h3v1h-3zM395 239h1v3h-1zM394 260h3v1h-3zM395 259h1v3h-1zM401 266h3v1h-3zM402 265h1v3h-1zM388 280h3v1h-3zM389 279h1v3h-1zM369 197h3v1h-3zM370 196h1v3h-1zM384 197h3v1h-3zM385 196h1v3h-1zM379 196h3v1h-3zM380 195h1v3h-1zM345 212h3v1h-3zM346 211h1v3h-1zM358 215h3v1h-3zM359 214h1v3h-1zM368 216h3v1h-3zM369 215h1v3h-1zM364 219h3v1h-3zM365 218h1v3h-1zM368 212h3v1h-3zM369 211h1v3h-1zM380 217h3v1h-3zM381 216h1v3h-1zM381 217h3v1h-3zM382 216h1v3h-1zM370 224h3v1h-3zM371 223h1v3h-1zM372 225h3v1h-3zM373 224h1v3h-1zM375 233h3v1h-3zM376 232h1v3h-1zM382 235h3v1h-3zM383 234h1v3h-1zM384 229h3v1h-3zM385 228h1v3h-1zM352 264h3v1h-3zM353 263h1v3h-1zM354 267h3v1h-3zM355 266h1v3h-1zM368 266h3v1h-3zM369 265h1v3h-1zM396 299h3v1h-3zM397 298h1v3h-1zM381 293h3v1h-3zM382 292h1v3h-1z" fill="#5b6614"/><path d="M222 330h1v1h-1zM311 210h1v1h-1zM337 241h1v1h-1zM313 167h1v1h-1zM292 180h1v1h-1zM506 331h1v1h-1zM546 329h1v1h-1zM423 275h1v1h-1zM415 294h1v1h-1zM415 311h1v1h-1zM361 155h1v1h-1zM350 315h1v1h-1zM389 232h1v1h-1zM394 235h1v1h-1zM395 240h1v1h-1zM395 260h1v1h-1zM402 266h1v1h-1zM389 280h1v1h-1zM370 197h1v1h-1zM385 197h1v1h-1zM380 196h1v1h-1zM346 212h1v1h-1zM359 215h1v1h-1zM369 216h1v1h-1zM365 219h1v1h-1zM369 212h1v1h-1zM381 217h1v1h-1zM382 217h1v1h-1zM371 224h1v1h-1zM373 225h1v1h-1zM376 233h1v1h-1zM383 235h1v1h-1zM385 229h1v1h-1zM353 264h1v1h-1zM355 267h1v1h-1zM369 266h1v1h-1zM397 299h1v1h-1zM382 293h1v1h-1z" fill="#c6d86a"/><path d="M230 295h3v1h-3zM231 294h1v3h-1zM312 226h3v1h-3zM313 225h1v3h-1zM426 286h3v1h-3zM427 285h1v3h-1zM346 154h3v1h-3zM347 153h1v3h-1zM362 162h3v1h-3zM363 161h1v3h-1zM347 332h3v1h-3zM348 331h1v3h-1zM413 329h3v1h-3zM414 328h1v3h-1zM382 278h3v1h-3zM383 277h1v3h-1zM382 198h3v1h-3zM383 197h1v3h-1zM362 204h3v1h-3zM363 203h1v3h-1zM355 218h3v1h-3zM356 217h1v3h-1zM371 213h3v1h-3zM372 212h1v3h-1zM377 227h3v1h-3zM378 226h1v3h-1zM357 229h3v1h-3zM358 228h1v3h-1zM357 234h3v1h-3zM358 233h1v3h-1zM362 241h3v1h-3zM363 240h1v3h-1zM375 242h3v1h-3zM376 241h1v3h-1zM357 251h3v1h-3zM358 250h1v3h-1zM376 249h3v1h-3zM377 248h1v3h-1zM375 257h3v1h-3zM376 256h1v3h-1zM378 259h3v1h-3zM379 258h1v3h-1zM407 297h3v1h-3zM408 296h1v3h-1z" fill="#3a86d8"/><path d="M301 277h3v1h-3zM302 276h1v3h-1zM282 315h3v1h-3zM283 314h1v3h-1zM315 221h3v1h-3zM316 220h1v3h-1zM413 268h3v1h-3zM414 267h1v3h-1zM440 289h3v1h-3zM441 288h1v3h-1zM413 297h3v1h-3zM414 296h1v3h-1zM436 302h3v1h-3zM437 301h1v3h-1zM345 153h3v1h-3zM346 152h1v3h-1zM340 323h3v1h-3zM341 322h1v3h-1zM338 275h3v1h-3zM339 274h1v3h-1zM387 277h3v1h-3zM388 276h1v3h-1zM375 209h3v1h-3zM376 208h1v3h-1zM367 230h3v1h-3zM368 229h1v3h-1zM369 228h3v1h-3zM370 227h1v3h-1zM377 233h3v1h-3zM378 232h1v3h-1zM379 228h3v1h-3zM380 227h1v3h-1zM359 243h3v1h-3zM360 242h1v3h-1zM361 249h3v1h-3zM362 248h1v3h-1zM357 255h3v1h-3zM358 254h1v3h-1zM379 259h3v1h-3zM380 258h1v3h-1zM366 265h3v1h-3zM367 264h1v3h-1zM399 298h3v1h-3zM400 297h1v3h-1zM378 291h3v1h-3zM379 290h1v3h-1zM371 288h3v1h-3zM372 287h1v3h-1z" fill="#3a86d8"/><path d="M329 319h3v1h-3zM330 318h1v3h-1zM238 268h3v1h-3zM239 267h1v3h-1zM330 182h3v1h-3zM331 181h1v3h-1zM335 182h3v1h-3zM336 181h1v3h-1zM434 278h3v1h-3zM435 277h1v3h-1zM441 287h3v1h-3zM442 286h1v3h-1zM447 312h3v1h-3zM448 311h1v3h-1zM329 149h3v1h-3zM330 148h1v3h-1zM336 274h3v1h-3zM337 273h1v3h-1zM392 230h3v1h-3zM393 229h1v3h-1zM410 259h3v1h-3zM411 258h1v3h-1zM412 273h3v1h-3zM413 272h1v3h-1zM387 279h3v1h-3zM388 278h1v3h-1zM404 282h3v1h-3zM405 281h1v3h-1zM378 203h3v1h-3zM379 202h1v3h-1zM346 218h3v1h-3zM347 217h1v3h-1zM353 216h3v1h-3zM354 215h1v3h-1zM362 219h3v1h-3zM363 218h1v3h-1zM376 219h3v1h-3zM377 218h1v3h-1zM372 212h3v1h-3zM373 211h1v3h-1zM364 225h3v1h-3zM365 224h1v3h-1zM370 223h3v1h-3zM371 222h1v3h-1zM372 223h3v1h-3zM373 222h1v3h-1zM353 228h3v1h-3zM354 227h1v3h-1zM367 232h3v1h-3zM368 231h1v3h-1zM372 228h3v1h-3zM373 227h1v3h-1zM356 239h3v1h-3zM357 238h1v3h-1zM371 243h3v1h-3zM372 242h1v3h-1zM372 247h3v1h-3zM373 246h1v3h-1zM377 245h3v1h-3zM378 244h1v3h-1zM384 246h3v1h-3zM385 245h1v3h-1zM345 265h3v1h-3zM346 264h1v3h-1zM350 265h3v1h-3zM351 264h1v3h-1zM407 289h3v1h-3zM408 288h1v3h-1zM369 240h3v1h-3zM370 239h1v3h-1zM369 250h3v1h-3zM370 249h1v3h-1zM369 255h3v1h-3zM370 254h1v3h-1zM369 286h3v1h-3zM370 285h1v3h-1zM369 293h3v1h-3zM370 292h1v3h-1zM369 306h3v1h-3zM370 305h1v3h-1z" fill="#5b6614"/><path d="M330 319h1v1h-1zM239 268h1v1h-1zM331 182h1v1h-1zM336 182h1v1h-1zM435 278h1v1h-1zM442 287h1v1h-1zM448 312h1v1h-1zM330 149h1v1h-1zM337 274h1v1h-1zM393 230h1v1h-1zM411 259h1v1h-1zM413 273h1v1h-1zM388 279h1v1h-1zM405 282h1v1h-1zM379 203h1v1h-1zM347 218h1v1h-1zM354 216h1v1h-1zM363 219h1v1h-1zM377 219h1v1h-1zM373 212h1v1h-1zM365 225h1v1h-1zM371 223h1v1h-1zM373 223h1v1h-1zM354 228h1v1h-1zM368 232h1v1h-1zM373 228h1v1h-1zM357 239h1v1h-1zM372 243h1v1h-1zM373 247h1v1h-1zM378 245h1v1h-1zM385 246h1v1h-1zM346 265h1v1h-1zM351 265h1v1h-1zM408 289h1v1h-1zM370 240h1v1h-1zM370 250h1v1h-1zM370 255h1v1h-1zM370 286h1v1h-1zM370 293h1v1h-1zM370 306h1v1h-1z" fill="#c6d86a"/><path d="M171 333h3v1h-3zM172 332h1v3h-1zM321 298h3v1h-3zM322 297h1v3h-1zM318 257h3v1h-3zM319 256h1v3h-1zM545 333h3v1h-3zM546 332h1v3h-1zM681 334h3v1h-3zM682 333h1v3h-1zM692 334h3v1h-3zM693 333h1v3h-1zM356 151h3v1h-3zM357 150h1v3h-1zM341 170h3v1h-3zM342 169h1v3h-1zM366 176h3v1h-3zM367 175h1v3h-1zM352 192h3v1h-3zM353 191h1v3h-1zM458 326h3v1h-3zM459 325h1v3h-1zM384 277h3v1h-3zM385 276h1v3h-1zM403 254h3v1h-3zM404 253h1v3h-1zM406 249h3v1h-3zM407 248h1v3h-1zM396 262h3v1h-3zM397 261h1v3h-1zM346 199h3v1h-3zM347 198h1v3h-1zM376 202h3v1h-3zM377 201h1v3h-1zM365 207h3v1h-3zM366 206h1v3h-1zM366 208h3v1h-3zM367 207h1v3h-1zM368 210h3v1h-3zM369 209h1v3h-1zM376 211h3v1h-3zM377 210h1v3h-1zM371 218h3v1h-3zM372 217h1v3h-1zM381 215h3v1h-3zM382 214h1v3h-1zM376 223h3v1h-3zM377 222h1v3h-1zM381 225h3v1h-3zM382 224h1v3h-1zM358 228h3v1h-3zM359 227h1v3h-1zM363 235h3v1h-3zM364 234h1v3h-1zM366 231h3v1h-3zM367 230h1v3h-1zM370 233h3v1h-3zM371 232h1v3h-1zM346 239h3v1h-3zM347 238h1v3h-1zM372 237h3v1h-3zM373 236h1v3h-1zM380 244h3v1h-3zM381 243h1v3h-1zM375 254h3v1h-3zM376 253h1v3h-1zM348 265h3v1h-3zM349 264h1v3h-1zM377 264h3v1h-3zM378 263h1v3h-1zM347 269h3v1h-3zM348 268h1v3h-1zM354 269h3v1h-3zM355 268h1v3h-1zM359 270h3v1h-3zM360 269h1v3h-1zM365 271h3v1h-3zM366 270h1v3h-1zM372 269h3v1h-3zM373 268h1v3h-1zM388 299h3v1h-3zM389 298h1v3h-1zM369 206h3v1h-3zM370 205h1v3h-1zM369 234h3v1h-3zM370 233h1v3h-1zM369 254h3v1h-3zM370 253h1v3h-1zM369 260h3v1h-3zM370 259h1v3h-1zM369 285h3v1h-3zM370 284h1v3h-1z" fill="#5b6614"/><path d="M172 333h1v1h-1zM322 298h1v1h-1zM319 257h1v1h-1zM546 333h1v1h-1zM682 334h1v1h-1zM693 334h1v1h-1zM357 151h1v1h-1zM342 170h1v1h-1zM367 176h1v1h-1zM353 192h1v1h-1zM459 326h1v1h-1zM385 277h1v1h-1zM404 254h1v1h-1zM407 249h1v1h-1zM397 262h1v1h-1zM347 199h1v1h-1zM377 202h1v1h-1zM366 207h1v1h-1zM367 208h1v1h-1zM369 210h1v1h-1zM377 211h1v1h-1zM372 218h1v1h-1zM382 215h1v1h-1zM377 223h1v1h-1zM382 225h1v1h-1zM359 228h1v1h-1zM364 235h1v1h-1zM367 231h1v1h-1zM371 233h1v1h-1zM347 239h1v1h-1zM373 237h1v1h-1zM381 244h1v1h-1zM376 254h1v1h-1zM349 265h1v1h-1zM378 264h1v1h-1zM348 269h1v1h-1zM355 269h1v1h-1zM360 270h1v1h-1zM366 271h1v1h-1zM373 269h1v1h-1zM389 299h1v1h-1zM370 206h1v1h-1zM370 234h1v1h-1zM370 254h1v1h-1zM370 260h1v1h-1zM370 285h1v1h-1z" fill="#c6d86a"/><path d="M264 310h3v1h-3zM265 309h1v3h-1zM255 267h3v1h-3zM256 266h1v3h-1zM330 237h3v1h-3zM331 236h1v3h-1zM336 128h3v1h-3zM337 127h1v3h-1zM426 294h3v1h-3zM427 293h1v3h-1zM446 303h3v1h-3zM447 302h1v3h-1zM445 309h3v1h-3zM446 308h1v3h-1zM431 318h3v1h-3zM432 317h1v3h-1zM421 324h3v1h-3zM422 323h1v3h-1zM351 176h3v1h-3zM352 175h1v3h-1zM346 312h3v1h-3zM347 311h1v3h-1zM412 330h3v1h-3zM413 329h1v3h-1zM385 253h3v1h-3zM386 252h1v3h-1zM371 197h3v1h-3zM372 196h1v3h-1zM381 212h3v1h-3zM382 211h1v3h-1zM383 219h3v1h-3zM384 218h1v3h-1zM376 239h3v1h-3zM377 238h1v3h-1zM370 241h3v1h-3zM371 240h1v3h-1zM372 241h3v1h-3zM373 240h1v3h-1zM381 236h3v1h-3zM382 235h1v3h-1zM381 256h3v1h-3zM382 255h1v3h-1zM361 260h3v1h-3zM362 259h1v3h-1zM374 270h3v1h-3zM375 269h1v3h-1zM397 296h3v1h-3zM398 295h1v3h-1zM385 288h3v1h-3zM386 287h1v3h-1zM369 312h3v1h-3zM370 311h1v3h-1z" fill="#3a86d8"/><path d="M325 325h3v1h-3zM326 324h1v3h-1zM262 267h3v1h-3zM263 266h1v3h-1zM436 274h3v1h-3zM437 273h1v3h-1zM413 302h3v1h-3zM414 301h1v3h-1zM458 312h3v1h-3zM459 311h1v3h-1zM349 195h3v1h-3zM350 194h1v3h-1zM423 329h3v1h-3zM424 328h1v3h-1zM387 287h3v1h-3zM388 286h1v3h-1zM364 213h3v1h-3zM365 212h1v3h-1zM372 219h3v1h-3zM373 218h1v3h-1zM353 222h3v1h-3zM354 221h1v3h-1zM379 223h3v1h-3zM380 222h1v3h-1zM352 234h3v1h-3zM353 233h1v3h-1zM373 236h3v1h-3zM374 235h1v3h-1zM373 241h3v1h-3zM374 240h1v3h-1zM357 244h3v1h-3zM358 243h1v3h-1zM374 254h3v1h-3zM375 253h1v3h-1zM380 258h3v1h-3zM381 257h1v3h-1zM374 289h3v1h-3zM375 288h1v3h-1z" fill="#3a86d8"/><path d="M306 282h3v1h-3zM307 281h1v3h-1zM305 300h3v1h-3zM306 299h1v3h-1zM334 314h3v1h-3zM335 313h1v3h-1zM291 208h3v1h-3zM292 207h1v3h-1zM320 265h3v1h-3zM321 264h1v3h-1zM331 265h3v1h-3zM332 264h1v3h-1zM325 116h3v1h-3zM326 115h1v3h-1zM328 170h3v1h-3zM329 169h1v3h-1zM491 298h3v1h-3zM492 297h1v3h-1zM329 152h3v1h-3zM330 151h1v3h-1zM336 151h3v1h-3zM337 150h1v3h-1zM346 162h3v1h-3zM347 161h1v3h-1zM356 168h3v1h-3zM357 167h1v3h-1zM374 193h3v1h-3zM375 192h1v3h-1zM344 305h3v1h-3zM345 304h1v3h-1zM335 314h3v1h-3zM336 313h1v3h-1zM330 284h3v1h-3zM331 283h1v3h-1zM387 275h3v1h-3zM388 274h1v3h-1zM389 239h3v1h-3zM390 238h1v3h-1zM389 275h3v1h-3zM390 274h1v3h-1zM356 201h3v1h-3zM357 200h1v3h-1zM349 219h3v1h-3zM350 218h1v3h-1zM364 213h3v1h-3zM365 212h1v3h-1zM362 215h3v1h-3zM363 214h1v3h-1zM375 212h3v1h-3zM376 211h1v3h-1zM375 216h3v1h-3zM376 215h1v3h-1zM362 225h3v1h-3zM363 224h1v3h-1zM356 233h3v1h-3zM357 232h1v3h-1zM371 236h3v1h-3zM372 235h1v3h-1zM366 250h3v1h-3zM367 249h1v3h-1zM371 250h3v1h-3zM372 249h1v3h-1zM371 249h3v1h-3zM372 248h1v3h-1zM354 253h3v1h-3zM355 252h1v3h-1zM377 261h3v1h-3zM378 260h1v3h-1zM382 260h3v1h-3zM383 259h1v3h-1zM348 269h3v1h-3zM349 268h1v3h-1zM388 290h3v1h-3zM389 289h1v3h-1zM406 296h3v1h-3zM407 295h1v3h-1zM385 294h3v1h-3zM386 293h1v3h-1zM369 253h3v1h-3zM370 252h1v3h-1zM369 276h3v1h-3zM370 275h1v3h-1zM369 281h3v1h-3zM370 280h1v3h-1zM369 289h3v1h-3zM370 288h1v3h-1zM369 321h3v1h-3zM370 320h1v3h-1z" fill="#5b6614"/><path d="M307 282h1v1h-1zM306 300h1v1h-1zM335 314h1v1h-1zM292 208h1v1h-1zM321 265h1v1h-1zM332 265h1v1h-1zM326 116h1v1h-1zM329 170h1v1h-1zM492 298h1v1h-1zM330 152h1v1h-1zM337 151h1v1h-1zM347 162h1v1h-1zM357 168h1v1h-1zM375 193h1v1h-1zM345 305h1v1h-1zM336 314h1v1h-1zM331 284h1v1h-1zM388 275h1v1h-1zM390 239h1v1h-1zM390 275h1v1h-1zM357 201h1v1h-1zM350 219h1v1h-1zM365 213h1v1h-1zM363 215h1v1h-1zM376 212h1v1h-1zM376 216h1v1h-1zM363 225h1v1h-1zM357 233h1v1h-1zM372 236h1v1h-1zM367 250h1v1h-1zM372 250h1v1h-1zM372 249h1v1h-1zM355 253h1v1h-1zM378 261h1v1h-1zM383 260h1v1h-1zM349 269h1v1h-1zM389 290h1v1h-1zM407 296h1v1h-1zM386 294h1v1h-1zM370 253h1v1h-1zM370 276h1v1h-1zM370 281h1v1h-1zM370 289h1v1h-1zM370 321h1v1h-1z" fill="#c6d86a"/><path d="M314 277h3v1h-3zM315 276h1v3h-1zM312 295h3v1h-3zM313 294h1v3h-1zM351 114h3v1h-3zM352 113h1v3h-1zM414 333h3v1h-3zM415 332h1v3h-1zM331 273h3v1h-3zM332 272h1v3h-1zM359 281h3v1h-3zM360 280h1v3h-1zM379 292h3v1h-3zM380 291h1v3h-1zM398 242h3v1h-3zM399 241h1v3h-1zM408 274h3v1h-3zM409 273h1v3h-1zM389 282h3v1h-3zM390 281h1v3h-1zM342 199h3v1h-3zM343 198h1v3h-1zM342 216h3v1h-3zM343 215h1v3h-1zM356 211h3v1h-3zM357 210h1v3h-1zM363 206h3v1h-3zM364 205h1v3h-1zM361 211h3v1h-3zM362 210h1v3h-1zM374 206h3v1h-3zM375 205h1v3h-1zM379 210h3v1h-3zM380 209h1v3h-1zM377 205h3v1h-3zM378 204h1v3h-1zM347 212h3v1h-3zM348 211h1v3h-1zM363 212h3v1h-3zM364 211h1v3h-1zM374 215h3v1h-3zM375 214h1v3h-1zM381 217h3v1h-3zM382 216h1v3h-1zM367 225h3v1h-3zM368 224h1v3h-1zM366 227h3v1h-3zM367 226h1v3h-1zM371 241h3v1h-3zM372 240h1v3h-1zM376 238h3v1h-3zM377 237h1v3h-1zM359 247h3v1h-3zM360 246h1v3h-1zM357 248h3v1h-3zM358 247h1v3h-1zM372 255h3v1h-3zM373 254h1v3h-1zM359 271h3v1h-3zM360 270h1v3h-1zM379 294h3v1h-3zM380 293h1v3h-1zM369 186h3v1h-3zM370 185h1v3h-1zM369 192h3v1h-3zM370 191h1v3h-1zM369 220h3v1h-3zM370 219h1v3h-1zM369 274h3v1h-3zM370 273h1v3h-1zM369 278h3v1h-3zM370 277h1v3h-1z" fill="#5b6614"/><path d="M315 277h1v1h-1zM313 295h1v1h-1zM352 114h1v1h-1zM415 333h1v1h-1zM332 273h1v1h-1zM360 281h1v1h-1zM380 292h1v1h-1zM399 242h1v1h-1zM409 274h1v1h-1zM390 282h1v1h-1zM343 199h1v1h-1zM343 216h1v1h-1zM357 211h1v1h-1zM364 206h1v1h-1zM362 211h1v1h-1zM375 206h1v1h-1zM380 210h1v1h-1zM378 205h1v1h-1zM348 212h1v1h-1zM364 212h1v1h-1zM375 215h1v1h-1zM382 217h1v1h-1zM368 225h1v1h-1zM367 227h1v1h-1zM372 241h1v1h-1zM377 238h1v1h-1zM360 247h1v1h-1zM358 248h1v1h-1zM373 255h1v1h-1zM360 271h1v1h-1zM380 294h1v1h-1zM370 186h1v1h-1zM370 192h1v1h-1zM370 220h1v1h-1zM370 274h1v1h-1zM370 278h1v1h-1z" fill="#c6d86a"/><path d="M286 281h3v1h-3zM287 280h1v3h-1zM292 332h3v1h-3zM293 331h1v3h-1zM329 329h3v1h-3zM330 328h1v3h-1zM308 257h3v1h-3zM309 256h1v3h-1zM414 272h3v1h-3zM415 271h1v3h-1zM418 308h3v1h-3zM419 307h1v3h-1zM475 315h3v1h-3zM476 314h1v3h-1zM393 311h3v1h-3zM394 310h1v3h-1zM354 282h3v1h-3zM355 281h1v3h-1zM366 286h3v1h-3zM367 285h1v3h-1zM374 277h3v1h-3zM375 276h1v3h-1zM405 280h3v1h-3zM406 279h1v3h-1zM341 239h3v1h-3zM342 238h1v3h-1zM359 209h3v1h-3zM360 208h1v3h-1zM368 216h3v1h-3zM369 215h1v3h-1zM379 212h3v1h-3zM380 211h1v3h-1zM384 212h3v1h-3zM385 211h1v3h-1zM353 223h3v1h-3zM354 222h1v3h-1zM363 227h3v1h-3zM364 226h1v3h-1zM361 227h3v1h-3zM362 226h1v3h-1zM366 235h3v1h-3zM367 234h1v3h-1zM376 229h3v1h-3zM377 228h1v3h-1zM380 235h3v1h-3zM381 234h1v3h-1zM345 266h3v1h-3zM346 265h1v3h-1zM381 262h3v1h-3zM382 261h1v3h-1zM369 302h3v1h-3zM370 301h1v3h-1z" fill="#3a86d8"/><path d="M512 335h3v1h-3zM513 334h1v3h-1zM427 281h3v1h-3zM428 280h1v3h-1zM472 298h3v1h-3zM473 297h1v3h-1zM434 308h3v1h-3zM435 307h1v3h-1zM396 324h3v1h-3zM397 323h1v3h-1zM363 280h3v1h-3zM364 279h1v3h-1zM404 265h3v1h-3zM405 264h1v3h-1zM375 198h3v1h-3zM376 197h1v3h-1zM350 212h3v1h-3zM351 211h1v3h-1zM372 216h3v1h-3zM373 215h1v3h-1zM356 227h3v1h-3zM357 226h1v3h-1zM379 234h3v1h-3zM380 233h1v3h-1zM367 236h3v1h-3zM368 235h1v3h-1zM365 256h3v1h-3zM366 255h1v3h-1zM369 329h3v1h-3zM370 328h1v3h-1z" fill="#3a86d8"/><path d="M329 311h3v1h-3zM330 310h1v3h-1zM258 326h3v1h-3zM259 325h1v3h-1zM278 200h3v1h-3zM279 199h1v3h-1zM310 193h3v1h-3zM311 192h1v3h-1zM334 230h3v1h-3zM335 229h1v3h-1zM325 167h3v1h-3zM326 166h1v3h-1zM417 272h3v1h-3zM418 271h1v3h-1zM453 288h3v1h-3zM454 287h1v3h-1zM467 290h3v1h-3zM468 289h1v3h-1zM418 289h3v1h-3zM419 288h1v3h-1zM428 289h3v1h-3zM429 288h1v3h-1zM442 304h3v1h-3zM443 303h1v3h-1zM345 181h3v1h-3zM346 180h1v3h-1zM354 181h3v1h-3zM355 180h1v3h-1zM351 272h3v1h-3zM352 271h1v3h-1zM345 279h3v1h-3zM346 278h1v3h-1zM349 279h3v1h-3zM350 278h1v3h-1zM331 297h3v1h-3zM332 296h1v3h-1zM387 282h3v1h-3zM388 281h1v3h-1zM388 267h3v1h-3zM389 266h1v3h-1zM323 148h3v1h-3zM324 147h1v3h-1zM355 197h3v1h-3zM356 196h1v3h-1zM356 209h3v1h-3zM357 208h1v3h-1zM382 205h3v1h-3zM383 204h1v3h-1zM368 216h3v1h-3zM369 215h1v3h-1zM374 218h3v1h-3zM375 217h1v3h-1zM359 225h3v1h-3zM360 224h1v3h-1zM383 220h3v1h-3zM384 219h1v3h-1zM380 226h3v1h-3zM381 225h1v3h-1zM377 226h3v1h-3zM378 225h1v3h-1zM355 231h3v1h-3zM356 230h1v3h-1zM381 232h3v1h-3zM382 231h1v3h-1zM381 228h3v1h-3zM382 227h1v3h-1zM346 238h3v1h-3zM347 237h1v3h-1zM359 242h3v1h-3zM360 241h1v3h-1zM355 239h3v1h-3zM356 238h1v3h-1zM383 238h3v1h-3zM384 237h1v3h-1zM377 243h3v1h-3zM378 242h1v3h-1zM347 252h3v1h-3zM348 251h1v3h-1zM368 259h3v1h-3zM369 258h1v3h-1zM370 266h3v1h-3zM371 265h1v3h-1zM382 292h3v1h-3zM383 291h1v3h-1zM369 202h3v1h-3zM370 201h1v3h-1zM369 216h3v1h-3zM370 215h1v3h-1zM369 242h3v1h-3zM370 241h1v3h-1z" fill="#5b6614"/><path d="M330 311h1v1h-1zM259 326h1v1h-1zM279 200h1v1h-1zM311 193h1v1h-1zM335 230h1v1h-1zM326 167h1v1h-1zM418 272h1v1h-1zM454 288h1v1h-1zM468 290h1v1h-1zM419 289h1v1h-1zM429 289h1v1h-1zM443 304h1v1h-1zM346 181h1v1h-1zM355 181h1v1h-1zM352 272h1v1h-1zM346 279h1v1h-1zM350 279h1v1h-1zM332 297h1v1h-1zM388 282h1v1h-1zM389 267h1v1h-1zM324 148h1v1h-1zM356 197h1v1h-1zM357 209h1v1h-1zM383 205h1v1h-1zM369 216h1v1h-1zM375 218h1v1h-1zM360 225h1v1h-1zM384 220h1v1h-1zM381 226h1v1h-1zM378 226h1v1h-1zM356 231h1v1h-1zM382 232h1v1h-1zM382 228h1v1h-1zM347 238h1v1h-1zM360 242h1v1h-1zM356 239h1v1h-1zM384 238h1v1h-1zM378 243h1v1h-1zM348 252h1v1h-1zM369 259h1v1h-1zM371 266h1v1h-1zM383 292h1v1h-1zM370 202h1v1h-1zM370 216h1v1h-1zM370 242h1v1h-1z" fill="#c6d86a"/><path d="M309 297h3v1h-3zM310 296h1v3h-1zM324 310h3v1h-3zM325 309h1v3h-1zM305 192h3v1h-3zM306 191h1v3h-1zM323 143h3v1h-3zM324 142h1v3h-1zM329 152h3v1h-3zM330 151h1v3h-1zM487 330h3v1h-3zM488 329h1v3h-1zM427 291h3v1h-3zM428 290h1v3h-1zM469 295h3v1h-3zM470 294h1v3h-1zM348 125h3v1h-3zM349 124h1v3h-1zM366 155h3v1h-3zM367 154h1v3h-1zM345 177h3v1h-3zM346 176h1v3h-1zM362 186h3v1h-3zM363 185h1v3h-1zM329 189h3v1h-3zM330 188h1v3h-1zM403 220h3v1h-3zM404 219h1v3h-1zM386 239h3v1h-3zM387 238h1v3h-1zM388 252h3v1h-3zM389 251h1v3h-1zM348 209h3v1h-3zM349 208h1v3h-1zM354 210h3v1h-3zM355 209h1v3h-1zM354 219h3v1h-3zM355 218h1v3h-1zM370 224h3v1h-3zM371 223h1v3h-1zM373 223h3v1h-3zM374 222h1v3h-1zM359 233h3v1h-3zM360 232h1v3h-1zM359 230h3v1h-3zM360 229h1v3h-1zM374 231h3v1h-3zM375 230h1v3h-1zM383 229h3v1h-3zM384 228h1v3h-1zM361 240h3v1h-3zM362 239h1v3h-1zM383 242h3v1h-3zM384 241h1v3h-1zM374 247h3v1h-3zM375 246h1v3h-1zM353 266h3v1h-3zM354 265h1v3h-1zM374 266h3v1h-3zM375 265h1v3h-1zM379 262h3v1h-3zM380 261h1v3h-1zM394 289h3v1h-3zM395 288h1v3h-1zM393 287h3v1h-3zM394 286h1v3h-1zM402 299h3v1h-3zM403 298h1v3h-1zM400 290h3v1h-3zM401 289h1v3h-1zM391 296h3v1h-3zM392 295h1v3h-1zM369 222h3v1h-3zM370 221h1v3h-1zM369 228h3v1h-3zM370 227h1v3h-1zM369 238h3v1h-3zM370 237h1v3h-1zM369 291h3v1h-3zM370 290h1v3h-1z" fill="#5b6614"/><path d="M310 297h1v1h-1zM325 310h1v1h-1zM306 192h1v1h-1zM324 143h1v1h-1zM330 152h1v1h-1zM488 330h1v1h-1zM428 291h1v1h-1zM470 295h1v1h-1zM349 125h1v1h-1zM367 155h1v1h-1zM346 177h1v1h-1zM363 186h1v1h-1zM330 189h1v1h-1zM404 220h1v1h-1zM387 239h1v1h-1zM389 252h1v1h-1zM349 209h1v1h-1zM355 210h1v1h-1zM355 219h1v1h-1zM371 224h1v1h-1zM374 223h1v1h-1zM360 233h1v1h-1zM360 230h1v1h-1zM375 231h1v1h-1zM384 229h1v1h-1zM362 240h1v1h-1zM384 242h1v1h-1zM375 247h1v1h-1zM354 266h1v1h-1zM375 266h1v1h-1zM380 262h1v1h-1zM395 289h1v1h-1zM394 287h1v1h-1zM403 299h1v1h-1zM401 290h1v1h-1zM392 296h1v1h-1zM370 222h1v1h-1zM370 228h1v1h-1zM370 238h1v1h-1zM370 291h1v1h-1z" fill="#c6d86a"/><path d="M312 311h3v1h-3zM313 310h1v3h-1zM314 262h3v1h-3zM315 261h1v3h-1zM432 302h3v1h-3zM433 301h1v3h-1zM438 301h3v1h-3zM439 300h1v3h-1zM444 319h3v1h-3zM445 318h1v3h-1zM360 177h3v1h-3zM361 176h1v3h-1zM372 185h3v1h-3zM373 184h1v3h-1zM369 184h3v1h-3zM370 183h1v3h-1zM348 305h3v1h-3zM349 304h1v3h-1zM387 305h3v1h-3zM388 304h1v3h-1zM375 291h3v1h-3zM376 290h1v3h-1zM354 210h3v1h-3zM355 209h1v3h-1zM373 218h3v1h-3zM374 217h1v3h-1zM372 219h3v1h-3zM373 218h1v3h-1zM364 221h3v1h-3zM365 220h1v3h-1zM371 220h3v1h-3zM372 219h1v3h-1zM372 224h3v1h-3zM373 223h1v3h-1zM371 224h3v1h-3zM372 223h1v3h-1zM372 231h3v1h-3zM373 230h1v3h-1zM364 248h3v1h-3zM365 247h1v3h-1zM353 258h3v1h-3zM354 257h1v3h-1zM357 261h3v1h-3zM358 260h1v3h-1zM373 293h3v1h-3zM374 292h1v3h-1z" fill="#3a86d8"/><path d="M330 301h3v1h-3zM331 300h1v3h-1zM309 231h3v1h-3zM310 230h1v3h-1zM332 129h3v1h-3zM333 128h1v3h-1zM420 294h3v1h-3zM421 293h1v3h-1zM361 174h3v1h-3zM362 173h1v3h-1zM409 311h3v1h-3zM410 310h1v3h-1zM428 335h3v1h-3zM429 334h1v3h-1zM446 330h3v1h-3zM447 329h1v3h-1zM450 328h3v1h-3zM451 327h1v3h-1zM388 296h3v1h-3zM389 295h1v3h-1zM385 233h3v1h-3zM386 232h1v3h-1zM374 216h3v1h-3zM375 215h1v3h-1zM382 222h3v1h-3zM383 221h1v3h-1zM382 229h3v1h-3zM383 228h1v3h-1zM362 238h3v1h-3zM363 237h1v3h-1zM364 238h3v1h-3zM365 237h1v3h-1zM383 237h3v1h-3zM384 236h1v3h-1zM363 249h3v1h-3zM364 248h1v3h-1zM375 246h3v1h-3zM376 245h1v3h-1zM378 249h3v1h-3zM379 248h1v3h-1zM355 257h3v1h-3zM356 256h1v3h-1zM375 252h3v1h-3zM376 251h1v3h-1zM361 264h3v1h-3zM362 263h1v3h-1zM380 265h3v1h-3zM381 264h1v3h-1zM383 268h3v1h-3zM384 267h1v3h-1zM369 315h3v1h-3zM370 314h1v3h-1z" fill="#3a86d8"/><path d="M323 292h3v1h-3zM324 291h1v3h-1zM511 333h3v1h-3zM512 332h1v3h-1zM458 272h3v1h-3zM459 271h1v3h-1zM347 289h3v1h-3zM348 288h1v3h-1zM392 231h3v1h-3zM393 230h1v3h-1zM397 253h3v1h-3zM398 252h1v3h-1zM386 255h3v1h-3zM387 254h1v3h-1zM397 283h3v1h-3zM398 282h1v3h-1zM354 200h3v1h-3zM355 199h1v3h-1zM367 203h3v1h-3zM368 202h1v3h-1zM361 204h3v1h-3zM362 203h1v3h-1zM367 206h3v1h-3zM368 205h1v3h-1zM372 209h3v1h-3zM373 208h1v3h-1zM381 210h3v1h-3zM382 209h1v3h-1zM374 213h3v1h-3zM375 212h1v3h-1zM374 217h3v1h-3zM375 216h1v3h-1zM379 217h3v1h-3zM380 216h1v3h-1zM346 227h3v1h-3zM347 226h1v3h-1zM364 226h3v1h-3zM365 225h1v3h-1zM365 223h3v1h-3zM366 222h1v3h-1zM372 221h3v1h-3zM373 220h1v3h-1zM356 230h3v1h-3zM357 229h1v3h-1zM354 233h3v1h-3zM355 232h1v3h-1zM373 231h3v1h-3zM374 230h1v3h-1zM355 237h3v1h-3zM356 236h1v3h-1zM356 242h3v1h-3zM357 241h1v3h-1zM371 243h3v1h-3zM372 242h1v3h-1zM381 250h3v1h-3zM382 249h1v3h-1zM351 252h3v1h-3zM352 251h1v3h-1zM379 258h3v1h-3zM380 257h1v3h-1zM365 265h3v1h-3zM366 264h1v3h-1zM376 265h3v1h-3zM377 264h1v3h-1zM353 269h3v1h-3zM354 268h1v3h-1zM391 290h3v1h-3zM392 289h1v3h-1zM393 291h3v1h-3zM394 290h1v3h-1zM408 298h3v1h-3zM409 297h1v3h-1zM369 272h3v1h-3zM370 271h1v3h-1z" fill="#5b6614"/><path d="M324 292h1v1h-1zM512 333h1v1h-1zM459 272h1v1h-1zM348 289h1v1h-1zM393 231h1v1h-1zM398 253h1v1h-1zM387 255h1v1h-1zM398 283h1v1h-1zM355 200h1v1h-1zM368 203h1v1h-1zM362 204h1v1h-1zM368 206h1v1h-1zM373 209h1v1h-1zM382 210h1v1h-1zM375 213h1v1h-1zM375 217h1v1h-1zM380 217h1v1h-1zM347 227h1v1h-1zM365 226h1v1h-1zM366 223h1v1h-1zM373 221h1v1h-1zM357 230h1v1h-1zM355 233h1v1h-1zM374 231h1v1h-1zM356 237h1v1h-1zM357 242h1v1h-1zM372 243h1v1h-1zM382 250h1v1h-1zM352 252h1v1h-1zM380 258h1v1h-1zM366 265h1v1h-1zM377 265h1v1h-1zM354 269h1v1h-1zM392 290h1v1h-1zM394 291h1v1h-1zM409 298h1v1h-1zM370 272h1v1h-1z" fill="#c6d86a"/><path d="M335 263h3v1h-3zM336 262h1v3h-1zM311 180h3v1h-3zM312 179h1v3h-1zM587 326h3v1h-3zM588 325h1v3h-1zM439 287h3v1h-3zM440 286h1v3h-1zM454 293h3v1h-3zM455 292h1v3h-1zM338 172h3v1h-3zM339 171h1v3h-1zM356 182h3v1h-3zM357 181h1v3h-1zM366 190h3v1h-3zM367 189h1v3h-1zM411 335h3v1h-3zM412 334h1v3h-1zM382 286h3v1h-3zM383 285h1v3h-1zM386 292h3v1h-3zM387 291h1v3h-1zM398 264h3v1h-3zM399 263h1v3h-1zM403 270h3v1h-3zM404 269h1v3h-1zM367 201h3v1h-3zM368 200h1v3h-1zM371 200h3v1h-3zM372 199h1v3h-1zM368 206h3v1h-3zM369 205h1v3h-1zM368 209h3v1h-3zM369 208h1v3h-1zM367 207h3v1h-3zM368 206h1v3h-1zM372 211h3v1h-3zM373 210h1v3h-1zM359 216h3v1h-3zM360 215h1v3h-1zM372 217h3v1h-3zM373 216h1v3h-1zM378 217h3v1h-3zM379 216h1v3h-1zM354 223h3v1h-3zM355 222h1v3h-1zM362 223h3v1h-3zM363 222h1v3h-1zM361 221h3v1h-3zM362 220h1v3h-1zM381 226h3v1h-3zM382 225h1v3h-1zM355 229h3v1h-3zM356 228h1v3h-1zM366 228h3v1h-3zM367 227h1v3h-1zM365 229h3v1h-3zM366 228h1v3h-1zM370 232h3v1h-3zM371 231h1v3h-1zM347 238h3v1h-3zM348 237h1v3h-1zM348 241h3v1h-3zM349 240h1v3h-1zM360 242h3v1h-3zM361 241h1v3h-1zM365 237h3v1h-3zM366 236h1v3h-1zM346 250h3v1h-3zM347 249h1v3h-1zM359 250h3v1h-3zM360 249h1v3h-1zM352 257h3v1h-3zM353 256h1v3h-1zM355 255h3v1h-3zM356 254h1v3h-1zM378 257h3v1h-3zM379 256h1v3h-1zM383 255h3v1h-3zM384 254h1v3h-1zM369 190h3v1h-3zM370 189h1v3h-1z" fill="#5b6614"/><path d="M336 263h1v1h-1zM312 180h1v1h-1zM588 326h1v1h-1zM440 287h1v1h-1zM455 293h1v1h-1zM339 172h1v1h-1zM357 182h1v1h-1zM367 190h1v1h-1zM412 335h1v1h-1zM383 286h1v1h-1zM387 292h1v1h-1zM399 264h1v1h-1zM404 270h1v1h-1zM368 201h1v1h-1zM372 200h1v1h-1zM369 206h1v1h-1zM369 209h1v1h-1zM368 207h1v1h-1zM373 211h1v1h-1zM360 216h1v1h-1zM373 217h1v1h-1zM379 217h1v1h-1zM355 223h1v1h-1zM363 223h1v1h-1zM362 221h1v1h-1zM382 226h1v1h-1zM356 229h1v1h-1zM367 228h1v1h-1zM366 229h1v1h-1zM371 232h1v1h-1zM348 238h1v1h-1zM349 241h1v1h-1zM361 242h1v1h-1zM366 237h1v1h-1zM347 250h1v1h-1zM360 250h1v1h-1zM353 257h1v1h-1zM356 255h1v1h-1zM379 257h1v1h-1zM384 255h1v1h-1zM370 190h1v1h-1z" fill="#c6d86a"/><path d="M309 270h3v1h-3zM310 269h1v3h-1zM282 333h3v1h-3zM283 332h1v3h-1zM332 169h3v1h-3zM333 168h1v3h-1zM425 308h3v1h-3zM426 307h1v3h-1zM364 160h3v1h-3zM365 159h1v3h-1zM396 314h3v1h-3zM397 313h1v3h-1zM380 284h3v1h-3zM381 283h1v3h-1zM360 210h3v1h-3zM361 209h1v3h-1zM375 229h3v1h-3zM376 228h1v3h-1zM375 241h3v1h-3zM376 240h1v3h-1zM364 251h3v1h-3zM365 250h1v3h-1zM350 267h3v1h-3zM351 266h1v3h-1zM365 266h3v1h-3zM366 265h1v3h-1zM367 269h3v1h-3zM368 268h1v3h-1zM396 297h3v1h-3zM397 296h1v3h-1zM378 289h3v1h-3zM379 288h1v3h-1z" fill="#3a86d8"/><path d="M282 285h3v1h-3zM283 284h1v3h-1zM294 245h3v1h-3zM295 244h1v3h-1zM417 280h3v1h-3zM418 279h1v3h-1zM425 292h3v1h-3zM426 291h1v3h-1zM443 302h3v1h-3zM444 301h1v3h-1zM463 311h3v1h-3zM464 310h1v3h-1zM420 316h3v1h-3zM421 315h1v3h-1zM425 320h3v1h-3zM426 319h1v3h-1zM387 264h3v1h-3zM388 263h1v3h-1zM394 270h3v1h-3zM395 269h1v3h-1zM393 273h3v1h-3zM394 272h1v3h-1zM399 278h3v1h-3zM400 277h1v3h-1zM362 211h3v1h-3zM363 210h1v3h-1zM374 204h3v1h-3zM375 203h1v3h-1zM378 208h3v1h-3zM379 207h1v3h-1zM347 212h3v1h-3zM348 211h1v3h-1zM353 222h3v1h-3zM354 221h1v3h-1zM359 220h3v1h-3zM360 219h1v3h-1zM367 227h3v1h-3zM368 226h1v3h-1zM363 239h3v1h-3zM364 238h1v3h-1zM373 242h3v1h-3zM374 241h1v3h-1zM372 243h3v1h-3zM373 242h1v3h-1zM369 242h3v1h-3zM370 241h1v3h-1zM380 238h3v1h-3zM381 237h1v3h-1zM361 252h3v1h-3zM362 251h1v3h-1zM406 294h3v1h-3zM407 293h1v3h-1zM392 288h3v1h-3zM393 287h1v3h-1zM390 296h3v1h-3zM391 295h1v3h-1z" fill="#3a86d8"/><path d="M186 310h3v1h-3zM187 309h1v3h-1zM271 279h3v1h-3zM272 278h1v3h-1zM312 273h3v1h-3zM313 272h1v3h-1zM308 277h3v1h-3zM309 276h1v3h-1zM290 319h3v1h-3zM291 318h1v3h-1zM327 335h3v1h-3zM328 334h1v3h-1zM328 334h3v1h-3zM329 333h1v3h-1zM438 292h3v1h-3zM439 291h1v3h-1zM454 298h3v1h-3zM455 297h1v3h-1zM432 313h3v1h-3zM433 312h1v3h-1zM347 127h3v1h-3zM348 126h1v3h-1zM354 129h3v1h-3zM355 128h1v3h-1zM349 302h3v1h-3zM350 301h1v3h-1zM337 322h3v1h-3zM338 321h1v3h-1zM358 275h3v1h-3zM359 274h1v3h-1zM353 286h3v1h-3zM354 285h1v3h-1zM386 272h3v1h-3zM387 271h1v3h-1zM376 283h3v1h-3zM377 282h1v3h-1zM388 285h3v1h-3zM389 284h1v3h-1zM382 290h3v1h-3zM383 289h1v3h-1zM408 268h3v1h-3zM409 267h1v3h-1zM401 277h3v1h-3zM402 276h1v3h-1zM354 200h3v1h-3zM355 199h1v3h-1zM356 211h3v1h-3zM357 210h1v3h-1zM347 216h3v1h-3zM348 215h1v3h-1zM364 219h3v1h-3zM365 218h1v3h-1zM364 215h3v1h-3zM365 214h1v3h-1zM368 218h3v1h-3zM369 217h1v3h-1zM375 213h3v1h-3zM376 212h1v3h-1zM383 223h3v1h-3zM384 222h1v3h-1zM379 226h3v1h-3zM380 225h1v3h-1zM349 231h3v1h-3zM350 230h1v3h-1zM361 231h3v1h-3zM362 230h1v3h-1zM377 242h3v1h-3zM378 241h1v3h-1zM378 249h3v1h-3zM379 248h1v3h-1zM382 247h3v1h-3zM383 246h1v3h-1zM366 260h3v1h-3zM367 259h1v3h-1zM395 296h3v1h-3zM396 295h1v3h-1zM390 298h3v1h-3zM391 297h1v3h-1zM406 286h3v1h-3zM407 285h1v3h-1zM369 269h3v1h-3zM370 268h1v3h-1zM369 320h3v1h-3zM370 319h1v3h-1z" fill="#5b6614"/><path d="M187 310h1v1h-1zM272 279h1v1h-1zM313 273h1v1h-1zM309 277h1v1h-1zM291 319h1v1h-1zM328 335h1v1h-1zM329 334h1v1h-1zM439 292h1v1h-1zM455 298h1v1h-1zM433 313h1v1h-1zM348 127h1v1h-1zM355 129h1v1h-1zM350 302h1v1h-1zM338 322h1v1h-1zM359 275h1v1h-1zM354 286h1v1h-1zM387 272h1v1h-1zM377 283h1v1h-1zM389 285h1v1h-1zM383 290h1v1h-1zM409 268h1v1h-1zM402 277h1v1h-1zM355 200h1v1h-1zM357 211h1v1h-1zM348 216h1v1h-1zM365 219h1v1h-1zM365 215h1v1h-1zM369 218h1v1h-1zM376 213h1v1h-1zM384 223h1v1h-1zM380 226h1v1h-1zM350 231h1v1h-1zM362 231h1v1h-1zM378 242h1v1h-1zM379 249h1v1h-1zM383 247h1v1h-1zM367 260h1v1h-1zM396 296h1v1h-1zM391 298h1v1h-1zM407 286h1v1h-1zM370 269h1v1h-1zM370 320h1v1h-1z" fill="#c6d86a"/><path d="M332 302h3v1h-3zM333 301h1v3h-1zM555 298h3v1h-3zM556 297h1v3h-1zM346 113h3v1h-3zM347 112h1v3h-1zM340 142h3v1h-3zM341 141h1v3h-1zM330 181h3v1h-3zM331 180h1v3h-1zM361 285h3v1h-3zM362 284h1v3h-1zM398 241h3v1h-3zM399 240h1v3h-1zM397 246h3v1h-3zM398 245h1v3h-1zM406 259h3v1h-3zM407 258h1v3h-1zM387 283h3v1h-3zM388 282h1v3h-1zM360 201h3v1h-3zM361 200h1v3h-1zM368 197h3v1h-3zM369 196h1v3h-1zM370 199h3v1h-3zM371 198h1v3h-1zM348 210h3v1h-3zM349 209h1v3h-1zM356 209h3v1h-3zM357 208h1v3h-1zM362 206h3v1h-3zM363 205h1v3h-1zM380 205h3v1h-3zM381 204h1v3h-1zM348 213h3v1h-3zM349 212h1v3h-1zM353 219h3v1h-3zM354 218h1v3h-1zM369 216h3v1h-3zM370 215h1v3h-1zM366 227h3v1h-3zM367 226h1v3h-1zM376 227h3v1h-3zM377 226h1v3h-1zM355 233h3v1h-3zM356 232h1v3h-1zM357 235h3v1h-3zM358 234h1v3h-1zM373 232h3v1h-3zM374 231h1v3h-1zM377 233h3v1h-3zM378 232h1v3h-1zM348 239h3v1h-3zM349 238h1v3h-1zM358 237h3v1h-3zM359 236h1v3h-1zM363 243h3v1h-3zM364 242h1v3h-1zM375 239h3v1h-3zM376 238h1v3h-1zM379 236h3v1h-3zM380 235h1v3h-1zM358 248h3v1h-3zM359 247h1v3h-1zM382 247h3v1h-3zM383 246h1v3h-1zM379 263h3v1h-3zM380 262h1v3h-1zM366 271h3v1h-3zM367 270h1v3h-1zM385 295h3v1h-3zM386 294h1v3h-1zM369 264h3v1h-3zM370 263h1v3h-1z" fill="#5b6614"/><path d="M333 302h1v1h-1zM556 298h1v1h-1zM347 113h1v1h-1zM341 142h1v1h-1zM331 181h1v1h-1zM362 285h1v1h-1zM399 241h1v1h-1zM398 246h1v1h-1zM407 259h1v1h-1zM388 283h1v1h-1zM361 201h1v1h-1zM369 197h1v1h-1zM371 199h1v1h-1zM349 210h1v1h-1zM357 209h1v1h-1zM363 206h1v1h-1zM381 205h1v1h-1zM349 213h1v1h-1zM354 219h1v1h-1zM370 216h1v1h-1zM367 227h1v1h-1zM377 227h1v1h-1zM356 233h1v1h-1zM358 235h1v1h-1zM374 232h1v1h-1zM378 233h1v1h-1zM349 239h1v1h-1zM359 237h1v1h-1zM364 243h1v1h-1zM376 239h1v1h-1zM380 236h1v1h-1zM359 248h1v1h-1zM383 247h1v1h-1zM380 263h1v1h-1zM367 271h1v1h-1zM386 295h1v1h-1zM370 264h1v1h-1z" fill="#c6d86a"/><path d="M257 322h3v1h-3zM258 321h1v3h-1zM316 330h3v1h-3zM317 329h1v3h-1zM325 174h3v1h-3zM326 173h1v3h-1zM415 264h3v1h-3zM416 263h1v3h-1zM432 278h3v1h-3zM433 277h1v3h-1zM438 294h3v1h-3zM439 293h1v3h-1zM475 306h3v1h-3zM476 305h1v3h-1zM331 168h3v1h-3zM332 167h1v3h-1zM381 302h3v1h-3zM382 301h1v3h-1zM400 260h3v1h-3zM401 259h1v3h-1zM403 277h3v1h-3zM404 276h1v3h-1zM367 200h3v1h-3zM368 199h1v3h-1zM374 196h3v1h-3zM375 195h1v3h-1zM370 223h3v1h-3zM371 222h1v3h-1zM365 240h3v1h-3zM366 239h1v3h-1zM369 236h3v1h-3zM370 235h1v3h-1zM365 244h3v1h-3zM366 243h1v3h-1zM371 261h3v1h-3zM372 260h1v3h-1zM378 260h3v1h-3zM379 259h1v3h-1zM382 262h3v1h-3zM383 261h1v3h-1zM387 286h3v1h-3zM388 285h1v3h-1zM400 287h3v1h-3zM401 286h1v3h-1z" fill="#3a86d8"/><path d="M132 334h3v1h-3zM133 333h1v3h-1zM288 334h3v1h-3zM289 333h1v3h-1zM430 277h3v1h-3zM431 276h1v3h-1zM434 312h3v1h-3zM435 311h1v3h-1zM467 314h3v1h-3zM468 313h1v3h-1zM336 128h3v1h-3zM337 127h1v3h-1zM365 166h3v1h-3zM366 165h1v3h-1zM372 179h3v1h-3zM373 178h1v3h-1zM351 310h3v1h-3zM352 309h1v3h-1zM385 283h3v1h-3zM386 282h1v3h-1zM372 298h3v1h-3zM373 297h1v3h-1zM388 272h3v1h-3zM389 271h1v3h-1zM345 202h3v1h-3zM346 201h1v3h-1zM355 201h3v1h-3zM356 200h1v3h-1zM368 202h3v1h-3zM369 201h1v3h-1zM376 218h3v1h-3zM377 217h1v3h-1zM359 227h3v1h-3zM360 226h1v3h-1zM358 221h3v1h-3zM359 220h1v3h-1zM373 223h3v1h-3zM374 222h1v3h-1zM379 225h3v1h-3zM380 224h1v3h-1zM363 228h3v1h-3zM364 227h1v3h-1zM368 245h3v1h-3zM369 244h1v3h-1zM381 248h3v1h-3zM382 247h1v3h-1zM355 266h3v1h-3zM356 265h1v3h-1zM393 288h3v1h-3zM394 287h1v3h-1zM369 325h3v1h-3zM370 324h1v3h-1z" fill="#3a86d8"/><path d="M325 315h3v1h-3zM326 314h1v3h-1zM311 218h3v1h-3zM312 217h1v3h-1zM331 137h3v1h-3zM332 136h1v3h-1zM540 315h3v1h-3zM541 314h1v3h-1zM423 291h3v1h-3zM424 290h1v3h-1zM463 295h3v1h-3zM464 294h1v3h-1zM464 299h3v1h-3zM465 298h1v3h-1zM351 137h3v1h-3zM352 136h1v3h-1zM337 141h3v1h-3zM338 140h1v3h-1zM394 302h3v1h-3zM395 301h1v3h-1zM346 275h3v1h-3zM347 274h1v3h-1zM362 289h3v1h-3zM363 288h1v3h-1zM408 258h3v1h-3zM409 257h1v3h-1zM407 277h3v1h-3zM408 276h1v3h-1zM408 279h3v1h-3zM409 278h1v3h-1zM364 202h3v1h-3zM365 201h1v3h-1zM376 202h3v1h-3zM377 201h1v3h-1zM373 206h3v1h-3zM374 205h1v3h-1zM367 219h3v1h-3zM368 218h1v3h-1zM362 213h3v1h-3zM363 212h1v3h-1zM368 219h3v1h-3zM369 218h1v3h-1zM375 218h3v1h-3zM376 217h1v3h-1zM357 223h3v1h-3zM358 222h1v3h-1zM356 227h3v1h-3zM357 226h1v3h-1zM350 229h3v1h-3zM351 228h1v3h-1zM377 233h3v1h-3zM378 232h1v3h-1zM348 240h3v1h-3zM349 239h1v3h-1zM370 240h3v1h-3zM371 239h1v3h-1zM377 256h3v1h-3zM378 255h1v3h-1zM358 262h3v1h-3zM359 261h1v3h-1zM383 261h3v1h-3zM384 260h1v3h-1zM359 269h3v1h-3zM360 268h1v3h-1zM411 299h3v1h-3zM412 298h1v3h-1zM404 288h3v1h-3zM405 287h1v3h-1zM369 251h3v1h-3zM370 250h1v3h-1z" fill="#5b6614"/><path d="M326 315h1v1h-1zM312 218h1v1h-1zM332 137h1v1h-1zM541 315h1v1h-1zM424 291h1v1h-1zM464 295h1v1h-1zM465 299h1v1h-1zM352 137h1v1h-1zM338 141h1v1h-1zM395 302h1v1h-1zM347 275h1v1h-1zM363 289h1v1h-1zM409 258h1v1h-1zM408 277h1v1h-1zM409 279h1v1h-1zM365 202h1v1h-1zM377 202h1v1h-1zM374 206h1v1h-1zM368 219h1v1h-1zM363 213h1v1h-1zM369 219h1v1h-1zM376 218h1v1h-1zM358 223h1v1h-1zM357 227h1v1h-1zM351 229h1v1h-1zM378 233h1v1h-1zM349 240h1v1h-1zM371 240h1v1h-1zM378 256h1v1h-1zM359 262h1v1h-1zM384 261h1v1h-1zM360 269h1v1h-1zM412 299h1v1h-1zM405 288h1v1h-1zM370 251h1v1h-1z" fill="#c6d86a"/><path d="M330 284h3v1h-3zM331 283h1v3h-1zM333 269h3v1h-3zM334 268h1v3h-1zM294 162h3v1h-3zM295 161h1v3h-1zM434 267h3v1h-3zM435 266h1v3h-1zM416 285h3v1h-3zM417 284h1v3h-1zM444 293h3v1h-3zM445 292h1v3h-1zM441 302h3v1h-3zM442 301h1v3h-1zM359 121h3v1h-3zM360 120h1v3h-1zM336 123h3v1h-3zM337 122h1v3h-1zM370 192h3v1h-3zM371 191h1v3h-1zM358 305h3v1h-3zM359 304h1v3h-1zM415 300h3v1h-3zM416 299h1v3h-1zM357 274h3v1h-3zM358 273h1v3h-1zM351 288h3v1h-3zM352 287h1v3h-1zM398 254h3v1h-3zM399 253h1v3h-1zM403 253h3v1h-3zM404 252h1v3h-1zM393 261h3v1h-3zM394 260h1v3h-1zM350 196h3v1h-3zM351 195h1v3h-1zM357 199h3v1h-3zM358 198h1v3h-1zM368 200h3v1h-3zM369 199h1v3h-1zM362 203h3v1h-3zM363 202h1v3h-1zM361 209h3v1h-3zM362 208h1v3h-1zM373 224h3v1h-3zM374 223h1v3h-1zM351 235h3v1h-3zM352 234h1v3h-1zM363 232h3v1h-3zM364 231h1v3h-1zM363 230h3v1h-3zM364 229h1v3h-1zM363 232h3v1h-3zM364 231h1v3h-1zM350 238h3v1h-3zM351 237h1v3h-1zM351 238h3v1h-3zM352 237h1v3h-1zM359 243h3v1h-3zM360 242h1v3h-1zM354 236h3v1h-3zM355 235h1v3h-1zM381 240h3v1h-3zM382 239h1v3h-1zM364 247h3v1h-3zM365 246h1v3h-1zM384 246h3v1h-3zM385 245h1v3h-1zM369 258h3v1h-3zM370 257h1v3h-1zM367 263h3v1h-3zM368 262h1v3h-1zM375 266h3v1h-3zM376 265h1v3h-1zM369 270h3v1h-3zM370 269h1v3h-1zM369 294h3v1h-3zM370 293h1v3h-1zM369 308h3v1h-3zM370 307h1v3h-1zM369 323h3v1h-3zM370 322h1v3h-1z" fill="#5b6614"/><path d="M331 284h1v1h-1zM334 269h1v1h-1zM295 162h1v1h-1zM435 267h1v1h-1zM417 285h1v1h-1zM445 293h1v1h-1zM442 302h1v1h-1zM360 121h1v1h-1zM337 123h1v1h-1zM371 192h1v1h-1zM359 305h1v1h-1zM416 300h1v1h-1zM358 274h1v1h-1zM352 288h1v1h-1zM399 254h1v1h-1zM404 253h1v1h-1zM394 261h1v1h-1zM351 196h1v1h-1zM358 199h1v1h-1zM369 200h1v1h-1zM363 203h1v1h-1zM362 209h1v1h-1zM374 224h1v1h-1zM352 235h1v1h-1zM364 232h1v1h-1zM364 230h1v1h-1zM364 232h1v1h-1zM351 238h1v1h-1zM352 238h1v1h-1zM360 243h1v1h-1zM355 236h1v1h-1zM382 240h1v1h-1zM365 247h1v1h-1zM385 246h1v1h-1zM370 258h1v1h-1zM368 263h1v1h-1zM376 266h1v1h-1zM370 270h1v1h-1zM370 294h1v1h-1zM370 308h1v1h-1zM370 323h1v1h-1z" fill="#c6d86a"/><path d="M111 334h3v1h-3zM112 333h1v3h-1zM178 311h3v1h-3zM179 310h1v3h-1zM320 271h3v1h-3zM321 270h1v3h-1zM201 316h3v1h-3zM202 315h1v3h-1zM318 292h3v1h-3zM319 291h1v3h-1zM298 257h3v1h-3zM299 256h1v3h-1zM513 323h3v1h-3zM514 322h1v3h-1zM432 291h3v1h-3zM433 290h1v3h-1zM405 306h3v1h-3zM406 305h1v3h-1zM383 329h3v1h-3zM384 328h1v3h-1zM384 289h3v1h-3zM385 288h1v3h-1zM385 297h3v1h-3zM386 296h1v3h-1zM395 238h3v1h-3zM396 237h1v3h-1zM394 249h3v1h-3zM395 248h1v3h-1zM387 256h3v1h-3zM388 255h1v3h-1zM342 242h3v1h-3zM343 241h1v3h-1zM384 219h3v1h-3zM385 218h1v3h-1zM378 235h3v1h-3zM379 234h1v3h-1zM373 240h3v1h-3zM374 239h1v3h-1zM353 254h3v1h-3zM354 253h1v3h-1zM363 253h3v1h-3zM364 252h1v3h-1zM375 252h3v1h-3zM376 251h1v3h-1zM374 261h3v1h-3zM375 260h1v3h-1zM375 262h3v1h-3zM376 261h1v3h-1zM378 268h3v1h-3zM379 267h1v3h-1zM398 291h3v1h-3zM399 290h1v3h-1zM369 305h3v1h-3zM370 304h1v3h-1z" fill="#3a86d8"/><path d="M284 285h3v1h-3zM285 284h1v3h-1zM236 307h3v1h-3zM237 306h1v3h-1zM324 260h3v1h-3zM325 259h1v3h-1zM330 170h3v1h-3zM331 169h1v3h-1zM442 292h3v1h-3zM443 291h1v3h-1zM447 299h3v1h-3zM448 298h1v3h-1zM416 306h3v1h-3zM417 305h1v3h-1zM451 314h3v1h-3zM452 313h1v3h-1zM377 190h3v1h-3zM378 189h1v3h-1zM329 329h3v1h-3zM330 328h1v3h-1zM428 333h3v1h-3zM429 332h1v3h-1zM344 295h3v1h-3zM345 294h1v3h-1zM358 229h3v1h-3zM359 228h1v3h-1zM370 232h3v1h-3zM371 231h1v3h-1zM362 241h3v1h-3zM363 240h1v3h-1zM370 236h3v1h-3zM371 235h1v3h-1zM379 243h3v1h-3zM380 242h1v3h-1zM379 243h3v1h-3zM380 242h1v3h-1zM347 250h3v1h-3zM348 249h1v3h-1zM380 249h3v1h-3zM381 248h1v3h-1zM372 257h3v1h-3zM373 256h1v3h-1zM374 253h3v1h-3zM375 252h1v3h-1zM373 265h3v1h-3zM374 264h1v3h-1zM400 299h3v1h-3zM401 298h1v3h-1zM388 296h3v1h-3zM389 295h1v3h-1zM391 297h3v1h-3zM392 296h1v3h-1zM369 332h3v1h-3zM370 331h1v3h-1z" fill="#3a86d8"/><path d="M102 334h3v1h-3zM103 333h1v3h-1zM331 273h3v1h-3zM332 272h1v3h-1zM328 321h3v1h-3zM329 320h1v3h-1zM289 328h3v1h-3zM290 327h1v3h-1zM329 190h3v1h-3zM330 189h1v3h-1zM456 294h3v1h-3zM457 293h1v3h-1zM430 304h3v1h-3zM431 303h1v3h-1zM413 312h3v1h-3zM414 311h1v3h-1zM439 320h3v1h-3zM440 319h1v3h-1zM349 166h3v1h-3zM350 165h1v3h-1zM366 182h3v1h-3zM367 181h1v3h-1zM365 193h3v1h-3zM366 192h1v3h-1zM337 293h3v1h-3zM338 292h1v3h-1zM386 240h3v1h-3zM387 239h1v3h-1zM391 260h3v1h-3zM392 259h1v3h-1zM405 273h3v1h-3zM406 272h1v3h-1zM401 279h3v1h-3zM402 278h1v3h-1zM346 197h3v1h-3zM347 196h1v3h-1zM376 198h3v1h-3zM377 197h1v3h-1zM358 205h3v1h-3zM359 204h1v3h-1zM371 210h3v1h-3zM372 209h1v3h-1zM365 219h3v1h-3zM366 218h1v3h-1zM359 223h3v1h-3zM360 222h1v3h-1zM365 225h3v1h-3zM366 224h1v3h-1zM381 224h3v1h-3zM382 223h1v3h-1zM367 234h3v1h-3zM368 233h1v3h-1zM361 228h3v1h-3zM362 227h1v3h-1zM369 228h3v1h-3zM370 227h1v3h-1zM345 249h3v1h-3zM346 248h1v3h-1zM362 246h3v1h-3zM363 245h1v3h-1zM384 249h3v1h-3zM385 248h1v3h-1zM347 259h3v1h-3zM348 258h1v3h-1zM345 256h3v1h-3zM346 255h1v3h-1zM355 255h3v1h-3zM356 254h1v3h-1zM383 255h3v1h-3zM384 254h1v3h-1zM368 264h3v1h-3zM369 263h1v3h-1zM393 289h3v1h-3zM394 288h1v3h-1zM393 287h3v1h-3zM394 286h1v3h-1z" fill="#5b6614"/><path d="M103 334h1v1h-1zM332 273h1v1h-1zM329 321h1v1h-1zM290 328h1v1h-1zM330 190h1v1h-1zM457 294h1v1h-1zM431 304h1v1h-1zM414 312h1v1h-1zM440 320h1v1h-1zM350 166h1v1h-1zM367 182h1v1h-1zM366 193h1v1h-1zM338 293h1v1h-1zM387 240h1v1h-1zM392 260h1v1h-1zM406 273h1v1h-1zM402 279h1v1h-1zM347 197h1v1h-1zM377 198h1v1h-1zM359 205h1v1h-1zM372 210h1v1h-1zM366 219h1v1h-1zM360 223h1v1h-1zM366 225h1v1h-1zM382 224h1v1h-1zM368 234h1v1h-1zM362 228h1v1h-1zM370 228h1v1h-1zM346 249h1v1h-1zM363 246h1v1h-1zM385 249h1v1h-1zM348 259h1v1h-1zM346 256h1v1h-1zM356 255h1v1h-1zM384 255h1v1h-1zM369 264h1v1h-1zM394 289h1v1h-1zM394 287h1v1h-1z" fill="#c6d86a"/><path d="M286 279h3v1h-3zM287 278h1v3h-1zM334 270h3v1h-3zM335 269h1v3h-1zM312 213h3v1h-3zM313 212h1v3h-1zM328 129h3v1h-3zM329 128h1v3h-1zM303 166h3v1h-3zM304 165h1v3h-1zM478 294h3v1h-3zM479 293h1v3h-1zM341 160h3v1h-3zM342 159h1v3h-1zM361 188h3v1h-3zM362 187h1v3h-1zM398 312h3v1h-3zM399 311h1v3h-1zM401 313h3v1h-3zM402 312h1v3h-1zM408 313h3v1h-3zM409 312h1v3h-1zM343 273h3v1h-3zM344 272h1v3h-1zM378 290h3v1h-3zM379 289h1v3h-1zM385 264h3v1h-3zM386 263h1v3h-1zM389 268h3v1h-3zM390 267h1v3h-1zM404 271h3v1h-3zM405 270h1v3h-1zM353 199h3v1h-3zM354 198h1v3h-1zM357 219h3v1h-3zM358 218h1v3h-1zM365 213h3v1h-3zM366 212h1v3h-1zM371 212h3v1h-3zM372 211h1v3h-1zM359 221h3v1h-3zM360 220h1v3h-1zM371 226h3v1h-3zM372 225h1v3h-1zM373 228h3v1h-3zM374 227h1v3h-1zM384 230h3v1h-3zM385 229h1v3h-1zM357 242h3v1h-3zM358 241h1v3h-1zM366 242h3v1h-3zM367 241h1v3h-1zM369 239h3v1h-3zM370 238h1v3h-1zM350 251h3v1h-3zM351 250h1v3h-1zM371 263h3v1h-3zM372 262h1v3h-1zM384 264h3v1h-3zM385 263h1v3h-1zM348 268h3v1h-3zM349 267h1v3h-1zM384 296h3v1h-3zM385 295h1v3h-1zM369 290h3v1h-3zM370 289h1v3h-1z" fill="#5b6614"/><path d="M287 279h1v1h-1zM335 270h1v1h-1zM313 213h1v1h-1zM329 129h1v1h-1zM304 166h1v1h-1zM479 294h1v1h-1zM342 160h1v1h-1zM362 188h1v1h-1zM399 312h1v1h-1zM402 313h1v1h-1zM409 313h1v1h-1zM344 273h1v1h-1zM379 290h1v1h-1zM386 264h1v1h-1zM390 268h1v1h-1zM405 271h1v1h-1zM354 199h1v1h-1zM358 219h1v1h-1zM366 213h1v1h-1zM372 212h1v1h-1zM360 221h1v1h-1zM372 226h1v1h-1zM374 228h1v1h-1zM385 230h1v1h-1zM358 242h1v1h-1zM367 242h1v1h-1zM370 239h1v1h-1zM351 251h1v1h-1zM372 263h1v1h-1zM385 264h1v1h-1zM349 268h1v1h-1zM385 296h1v1h-1zM370 290h1v1h-1z" fill="#c6d86a"/><path d="M425 299h3v1h-3zM426 298h1v3h-1zM434 300h3v1h-3zM435 299h1v3h-1zM444 303h3v1h-3zM445 302h1v3h-1zM439 306h3v1h-3zM440 305h1v3h-1zM448 314h3v1h-3zM449 313h1v3h-1zM460 311h3v1h-3zM461 310h1v3h-1zM361 319h3v1h-3zM362 318h1v3h-1zM399 313h3v1h-3zM400 312h1v3h-1zM348 207h3v1h-3zM349 206h1v3h-1zM354 222h3v1h-3zM355 221h1v3h-1zM365 222h3v1h-3zM366 221h1v3h-1zM372 220h3v1h-3zM373 219h1v3h-1zM378 226h3v1h-3zM379 225h1v3h-1zM383 221h3v1h-3zM384 220h1v3h-1zM358 232h3v1h-3zM359 231h1v3h-1zM355 228h3v1h-3zM356 227h1v3h-1zM370 233h3v1h-3zM371 232h1v3h-1zM363 241h3v1h-3zM364 240h1v3h-1zM365 250h3v1h-3zM366 249h1v3h-1zM377 260h3v1h-3zM378 259h1v3h-1zM385 296h3v1h-3zM386 295h1v3h-1zM372 292h3v1h-3zM373 291h1v3h-1z" fill="#3a86d8"/><path d="M261 283h3v1h-3zM262 282h1v3h-1zM319 278h3v1h-3zM320 277h1v3h-1zM319 233h3v1h-3zM320 232h1v3h-1zM450 301h3v1h-3zM451 300h1v3h-1zM479 304h3v1h-3zM480 303h1v3h-1zM441 307h3v1h-3zM442 306h1v3h-1zM332 129h3v1h-3zM333 128h1v3h-1zM374 180h3v1h-3zM375 179h1v3h-1zM369 182h3v1h-3zM370 181h1v3h-1zM364 319h3v1h-3zM365 318h1v3h-1zM337 297h3v1h-3zM338 296h1v3h-1zM383 282h3v1h-3zM384 281h1v3h-1zM395 282h3v1h-3zM396 281h1v3h-1zM376 218h3v1h-3zM377 217h1v3h-1zM370 214h3v1h-3zM371 213h1v3h-1zM364 226h3v1h-3zM365 225h1v3h-1zM351 239h3v1h-3zM352 238h1v3h-1zM373 237h3v1h-3zM374 236h1v3h-1zM380 266h3v1h-3zM381 265h1v3h-1zM373 269h3v1h-3zM374 268h1v3h-1zM391 290h3v1h-3zM392 289h1v3h-1zM384 294h3v1h-3zM385 293h1v3h-1zM369 326h3v1h-3zM370 325h1v3h-1z" fill="#3a86d8"/><path d="M312 297h3v1h-3zM313 296h1v3h-1zM312 318h3v1h-3zM313 317h1v3h-1zM305 323h3v1h-3zM306 322h1v3h-1zM305 326h3v1h-3zM306 325h1v3h-1zM302 333h3v1h-3zM303 332h1v3h-1zM517 297h3v1h-3zM518 296h1v3h-1zM545 333h3v1h-3zM546 332h1v3h-1zM445 272h3v1h-3zM446 271h1v3h-1zM414 288h3v1h-3zM415 287h1v3h-1zM414 299h3v1h-3zM415 298h1v3h-1zM349 113h3v1h-3zM350 112h1v3h-1zM349 166h3v1h-3zM350 165h1v3h-1zM344 195h3v1h-3zM345 194h1v3h-1zM335 309h3v1h-3zM336 308h1v3h-1zM363 336h3v1h-3zM364 335h1v3h-1zM410 316h3v1h-3zM411 315h1v3h-1zM350 277h3v1h-3zM351 276h1v3h-1zM379 279h3v1h-3zM380 278h1v3h-1zM387 260h3v1h-3zM388 259h1v3h-1zM402 261h3v1h-3zM403 260h1v3h-1zM407 273h3v1h-3zM408 272h1v3h-1zM436 282h3v1h-3zM437 281h1v3h-1zM417 285h3v1h-3zM418 284h1v3h-1zM346 202h3v1h-3zM347 201h1v3h-1zM371 197h3v1h-3zM372 196h1v3h-1zM379 215h3v1h-3zM380 214h1v3h-1zM378 232h3v1h-3zM379 231h1v3h-1zM359 238h3v1h-3zM360 237h1v3h-1zM364 243h3v1h-3zM365 242h1v3h-1zM345 256h3v1h-3zM346 255h1v3h-1zM376 259h3v1h-3zM377 258h1v3h-1zM371 259h3v1h-3zM372 258h1v3h-1zM378 256h3v1h-3zM379 255h1v3h-1zM369 268h3v1h-3zM370 267h1v3h-1zM369 277h3v1h-3zM370 276h1v3h-1zM369 284h3v1h-3zM370 283h1v3h-1z" fill="#5b6614"/><path d="M313 297h1v1h-1zM313 318h1v1h-1zM306 323h1v1h-1zM306 326h1v1h-1zM303 333h1v1h-1zM518 297h1v1h-1zM546 333h1v1h-1zM446 272h1v1h-1zM415 288h1v1h-1zM415 299h1v1h-1zM350 113h1v1h-1zM350 166h1v1h-1zM345 195h1v1h-1zM336 309h1v1h-1zM364 336h1v1h-1zM411 316h1v1h-1zM351 277h1v1h-1zM380 279h1v1h-1zM388 260h1v1h-1zM403 261h1v1h-1zM408 273h1v1h-1zM437 282h1v1h-1zM418 285h1v1h-1zM347 202h1v1h-1zM372 197h1v1h-1zM380 215h1v1h-1zM379 232h1v1h-1zM360 238h1v1h-1zM365 243h1v1h-1zM346 256h1v1h-1zM377 259h1v1h-1zM372 259h1v1h-1zM379 256h1v1h-1zM370 268h1v1h-1zM370 277h1v1h-1zM370 284h1v1h-1z" fill="#c6d86a"/><path d="M97 332h3v1h-3zM98 331h1v3h-1zM190 310h3v1h-3zM191 309h1v3h-1zM245 308h3v1h-3zM246 307h1v3h-1zM249 324h3v1h-3zM250 323h1v3h-1zM208 328h3v1h-3zM209 327h1v3h-1zM271 212h3v1h-3zM272 211h1v3h-1zM326 166h3v1h-3zM327 165h1v3h-1zM331 175h3v1h-3zM332 174h1v3h-1zM554 322h3v1h-3zM555 321h1v3h-1zM619 327h3v1h-3zM620 326h1v3h-1zM414 269h3v1h-3zM415 268h1v3h-1zM432 294h3v1h-3zM433 293h1v3h-1zM335 155h3v1h-3zM336 154h1v3h-1zM350 185h3v1h-3zM351 184h1v3h-1zM363 194h3v1h-3zM364 193h1v3h-1zM363 325h3v1h-3zM364 324h1v3h-1zM355 278h3v1h-3zM356 277h1v3h-1zM349 291h3v1h-3zM350 290h1v3h-1zM354 294h3v1h-3zM355 293h1v3h-1zM347 299h3v1h-3zM348 298h1v3h-1zM373 274h3v1h-3zM374 273h1v3h-1zM376 289h3v1h-3zM377 288h1v3h-1zM397 231h3v1h-3zM398 230h1v3h-1zM396 245h3v1h-3zM397 244h1v3h-1zM404 284h3v1h-3zM405 283h1v3h-1zM345 208h3v1h-3zM346 207h1v3h-1zM360 202h3v1h-3zM361 201h1v3h-1zM370 206h3v1h-3zM371 205h1v3h-1zM356 212h3v1h-3zM357 211h1v3h-1zM360 224h3v1h-3zM361 223h1v3h-1zM378 221h3v1h-3zM379 220h1v3h-1zM364 240h3v1h-3zM365 239h1v3h-1zM377 255h3v1h-3zM378 254h1v3h-1zM377 256h3v1h-3zM378 255h1v3h-1zM351 266h3v1h-3zM352 265h1v3h-1zM366 271h3v1h-3zM367 270h1v3h-1zM398 298h3v1h-3zM399 297h1v3h-1zM391 295h3v1h-3zM392 294h1v3h-1zM373 290h3v1h-3zM374 289h1v3h-1zM369 271h3v1h-3zM370 270h1v3h-1z" fill="#5b6614"/><path d="M98 332h1v1h-1zM191 310h1v1h-1zM246 308h1v1h-1zM250 324h1v1h-1zM209 328h1v1h-1zM272 212h1v1h-1zM327 166h1v1h-1zM332 175h1v1h-1zM555 322h1v1h-1zM620 327h1v1h-1zM415 269h1v1h-1zM433 294h1v1h-1zM336 155h1v1h-1zM351 185h1v1h-1zM364 194h1v1h-1zM364 325h1v1h-1zM356 278h1v1h-1zM350 291h1v1h-1zM355 294h1v1h-1zM348 299h1v1h-1zM374 274h1v1h-1zM377 289h1v1h-1zM398 231h1v1h-1zM397 245h1v1h-1zM405 284h1v1h-1zM346 208h1v1h-1zM361 202h1v1h-1zM371 206h1v1h-1zM357 212h1v1h-1zM361 224h1v1h-1zM379 221h1v1h-1zM365 240h1v1h-1zM378 255h1v1h-1zM378 256h1v1h-1zM352 266h1v1h-1zM367 271h1v1h-1zM399 298h1v1h-1zM392 295h1v1h-1zM374 290h1v1h-1zM370 271h1v1h-1z" fill="#c6d86a"/><path d="M227 302h3v1h-3zM228 301h1v3h-1zM259 300h3v1h-3zM260 299h1v3h-1zM296 296h3v1h-3zM297 295h1v3h-1zM627 335h3v1h-3zM628 334h1v3h-1zM463 289h3v1h-3zM464 288h1v3h-1zM461 295h3v1h-3zM462 294h1v3h-1zM429 298h3v1h-3zM430 297h1v3h-1zM439 297h3v1h-3zM440 296h1v3h-1zM364 193h3v1h-3zM365 192h1v3h-1zM372 279h3v1h-3zM373 278h1v3h-1zM388 290h3v1h-3zM389 289h1v3h-1zM387 228h3v1h-3zM388 227h1v3h-1zM359 214h3v1h-3zM360 213h1v3h-1zM381 222h3v1h-3zM382 221h1v3h-1zM362 228h3v1h-3zM363 227h1v3h-1zM372 232h3v1h-3zM373 231h1v3h-1zM382 233h3v1h-3zM383 232h1v3h-1zM360 253h3v1h-3zM361 252h1v3h-1zM403 299h3v1h-3zM404 298h1v3h-1zM395 291h3v1h-3zM396 290h1v3h-1zM375 292h3v1h-3zM376 291h1v3h-1zM369 313h3v1h-3zM370 312h1v3h-1zM369 328h3v1h-3zM370 327h1v3h-1zM369 333h3v1h-3zM370 332h1v3h-1z" fill="#3a86d8"/><path d="M330 246h3v1h-3zM331 245h1v3h-1zM324 257h3v1h-3zM325 256h1v3h-1zM316 262h3v1h-3zM317 261h1v3h-1zM462 309h3v1h-3zM463 308h1v3h-1zM342 334h3v1h-3zM343 333h1v3h-1zM357 297h3v1h-3zM358 296h1v3h-1zM385 286h3v1h-3zM386 285h1v3h-1zM366 211h3v1h-3zM367 210h1v3h-1zM358 219h3v1h-3zM359 218h1v3h-1zM357 221h3v1h-3zM358 220h1v3h-1zM355 226h3v1h-3zM356 225h1v3h-1zM371 227h3v1h-3zM372 226h1v3h-1zM345 242h3v1h-3zM346 241h1v3h-1zM356 238h3v1h-3zM357 237h1v3h-1zM368 242h3v1h-3zM369 241h1v3h-1zM384 256h3v1h-3zM385 255h1v3h-1zM364 266h3v1h-3zM365 265h1v3h-1zM371 265h3v1h-3zM372 264h1v3h-1zM409 291h3v1h-3zM410 290h1v3h-1z" fill="#3a86d8"/><path d="M177 316h3v1h-3zM178 315h1v3h-1zM271 272h3v1h-3zM272 271h1v3h-1zM307 292h3v1h-3zM308 291h1v3h-1zM249 332h3v1h-3zM250 331h1v3h-1zM330 204h3v1h-3zM331 203h1v3h-1zM331 228h3v1h-3zM332 227h1v3h-1zM336 123h3v1h-3zM337 122h1v3h-1zM311 189h3v1h-3zM312 188h1v3h-1zM651 334h3v1h-3zM652 333h1v3h-1zM506 291h3v1h-3zM507 290h1v3h-1zM499 324h3v1h-3zM500 323h1v3h-1zM347 168h3v1h-3zM348 167h1v3h-1zM465 325h3v1h-3zM466 324h1v3h-1zM342 297h3v1h-3zM343 296h1v3h-1zM374 286h3v1h-3zM375 285h1v3h-1zM386 267h3v1h-3zM387 266h1v3h-1zM342 212h3v1h-3zM343 211h1v3h-1zM361 197h3v1h-3zM362 196h1v3h-1zM378 198h3v1h-3zM379 197h1v3h-1zM363 206h3v1h-3zM364 205h1v3h-1zM375 210h3v1h-3zM376 209h1v3h-1zM349 215h3v1h-3zM350 214h1v3h-1zM365 216h3v1h-3zM366 215h1v3h-1zM370 217h3v1h-3zM371 216h1v3h-1zM371 216h3v1h-3zM372 215h1v3h-1zM353 225h3v1h-3zM354 224h1v3h-1zM361 224h3v1h-3zM362 223h1v3h-1zM361 226h3v1h-3zM362 225h1v3h-1zM362 220h3v1h-3zM363 219h1v3h-1zM373 225h3v1h-3zM374 224h1v3h-1zM376 235h3v1h-3zM377 234h1v3h-1zM348 241h3v1h-3zM349 240h1v3h-1zM364 238h3v1h-3zM365 237h1v3h-1zM371 244h3v1h-3zM372 243h1v3h-1zM355 255h3v1h-3zM356 254h1v3h-1zM367 252h3v1h-3zM368 251h1v3h-1zM381 252h3v1h-3zM382 251h1v3h-1zM347 263h3v1h-3zM348 262h1v3h-1zM359 265h3v1h-3zM360 264h1v3h-1zM395 296h3v1h-3zM396 295h1v3h-1zM369 248h3v1h-3zM370 247h1v3h-1zM369 298h3v1h-3zM370 297h1v3h-1z" fill="#5b6614"/><path d="M178 316h1v1h-1zM272 272h1v1h-1zM308 292h1v1h-1zM250 332h1v1h-1zM331 204h1v1h-1zM332 228h1v1h-1zM337 123h1v1h-1zM312 189h1v1h-1zM652 334h1v1h-1zM507 291h1v1h-1zM500 324h1v1h-1zM348 168h1v1h-1zM466 325h1v1h-1zM343 297h1v1h-1zM375 286h1v1h-1zM387 267h1v1h-1zM343 212h1v1h-1zM362 197h1v1h-1zM379 198h1v1h-1zM364 206h1v1h-1zM376 210h1v1h-1zM350 215h1v1h-1zM366 216h1v1h-1zM371 217h1v1h-1zM372 216h1v1h-1zM354 225h1v1h-1zM362 224h1v1h-1zM362 226h1v1h-1zM363 220h1v1h-1zM374 225h1v1h-1zM377 235h1v1h-1zM349 241h1v1h-1zM365 238h1v1h-1zM372 244h1v1h-1zM356 255h1v1h-1zM368 252h1v1h-1zM382 252h1v1h-1zM348 263h1v1h-1zM360 265h1v1h-1zM396 296h1v1h-1zM370 248h1v1h-1zM370 298h1v1h-1z" fill="#c6d86a"/><path d="M334 201h3v1h-3zM335 200h1v3h-1zM326 241h3v1h-3zM327 240h1v3h-1zM320 134h3v1h-3zM321 133h1v3h-1zM322 173h3v1h-3zM323 172h1v3h-1zM431 275h3v1h-3zM432 274h1v3h-1zM419 291h3v1h-3zM420 290h1v3h-1zM435 309h3v1h-3zM436 308h1v3h-1zM354 122h3v1h-3zM355 121h1v3h-1zM331 175h3v1h-3zM332 174h1v3h-1zM417 329h3v1h-3zM418 328h1v3h-1zM387 204h3v1h-3zM388 203h1v3h-1zM371 202h3v1h-3zM372 201h1v3h-1zM375 202h3v1h-3zM376 201h1v3h-1zM348 219h3v1h-3zM349 218h1v3h-1zM354 216h3v1h-3zM355 215h1v3h-1zM379 215h3v1h-3zM380 214h1v3h-1zM357 223h3v1h-3zM358 222h1v3h-1zM362 220h3v1h-3zM363 219h1v3h-1zM379 226h3v1h-3zM380 225h1v3h-1zM377 225h3v1h-3zM378 224h1v3h-1zM367 239h3v1h-3zM368 238h1v3h-1zM370 243h3v1h-3zM371 242h1v3h-1zM361 254h3v1h-3zM362 253h1v3h-1zM363 266h3v1h-3zM364 265h1v3h-1zM369 265h3v1h-3zM370 264h1v3h-1zM375 267h3v1h-3zM376 266h1v3h-1zM380 270h3v1h-3zM381 269h1v3h-1zM369 196h3v1h-3zM370 195h1v3h-1zM369 257h3v1h-3zM370 256h1v3h-1z" fill="#5b6614"/><path d="M335 201h1v1h-1zM327 241h1v1h-1zM321 134h1v1h-1zM323 173h1v1h-1zM432 275h1v1h-1zM420 291h1v1h-1zM436 309h1v1h-1zM355 122h1v1h-1zM332 175h1v1h-1zM418 329h1v1h-1zM388 204h1v1h-1zM372 202h1v1h-1zM376 202h1v1h-1zM349 219h1v1h-1zM355 216h1v1h-1zM380 215h1v1h-1zM358 223h1v1h-1zM363 220h1v1h-1zM380 226h1v1h-1zM378 225h1v1h-1zM368 239h1v1h-1zM371 243h1v1h-1zM362 254h1v1h-1zM364 266h1v1h-1zM370 265h1v1h-1zM376 267h1v1h-1zM381 270h1v1h-1zM370 196h1v1h-1zM370 257h1v1h-1z" fill="#c6d86a"/><path d="M196 311h3v1h-3zM197 310h1v3h-1zM415 274h3v1h-3zM416 273h1v3h-1zM417 300h3v1h-3zM418 299h1v3h-1zM410 300h3v1h-3zM411 299h1v3h-1zM408 309h3v1h-3zM409 308h1v3h-1zM385 227h3v1h-3zM386 226h1v3h-1zM398 270h3v1h-3zM399 269h1v3h-1zM354 212h3v1h-3zM355 211h1v3h-1zM368 227h3v1h-3zM369 226h1v3h-1zM360 250h3v1h-3zM361 249h1v3h-1zM384 251h3v1h-3zM385 250h1v3h-1zM365 252h3v1h-3zM366 251h1v3h-1zM370 264h3v1h-3zM371 263h1v3h-1zM369 331h3v1h-3zM370 330h1v3h-1zM369 336h3v1h-3zM370 335h1v3h-1zM383 293h3v1h-3zM384 292h1v3h-1zM384 293h3v1h-3zM385 292h1v3h-1zM386 292h3v1h-3zM387 291h1v3h-1zM387 292h3v1h-3zM388 291h1v3h-1zM389 292h3v1h-3zM390 291h1v3h-1zM390 291h3v1h-3zM391 290h1v3h-1zM392 291h3v1h-3zM393 290h1v3h-1zM393 291h3v1h-3zM394 290h1v3h-1zM395 293h3v1h-3zM396 292h1v3h-1zM396 293h3v1h-3zM397 292h1v3h-1zM398 291h3v1h-3zM399 290h1v3h-1zM399 292h3v1h-3zM400 291h1v3h-1zM401 292h3v1h-3zM402 291h1v3h-1zM402 291h3v1h-3zM403 290h1v3h-1zM404 293h3v1h-3zM405 292h1v3h-1zM405 293h3v1h-3zM406 292h1v3h-1zM407 293h3v1h-3zM408 292h1v3h-1zM408 292h3v1h-3zM409 291h1v3h-1zM410 292h3v1h-3zM411 291h1v3h-1zM411 291h3v1h-3zM412 290h1v3h-1zM413 291h3v1h-3zM414 290h1v3h-1zM415 290h3v1h-3zM416 289h1v3h-1zM417 292h3v1h-3zM418 291h1v3h-1zM419 291h3v1h-3zM420 290h1v3h-1zM421 292h3v1h-3zM422 291h1v3h-1zM423 292h3v1h-3zM424 291h1v3h-1zM425 292h3v1h-3zM426 291h1v3h-1zM427 292h3v1h-3zM428 291h1v3h-1zM429 292h3v1h-3zM430 291h1v3h-1zM407 294h3v1h-3zM408 293h1v3h-1zM408 294h3v1h-3zM409 293h1v3h-1zM409 295h3v1h-3zM410 294h1v3h-1zM411 296h3v1h-3zM412 295h1v3h-1zM412 297h3v1h-3zM413 296h1v3h-1zM414 298h3v1h-3zM415 297h1v3h-1zM415 299h3v1h-3zM416 298h1v3h-1zM417 299h3v1h-3zM418 298h1v3h-1zM418 300h3v1h-3zM419 299h1v3h-1z" fill="#3a86d8"/></g></svg><svg width="720" height="400" viewBox="0 0 720 400"><rect x="50.5" y="30.5" width="640" height="320" fill="none" stroke="#d9d9d9" stroke-width="1"/><line x1="370.5" y1="31" x2="370.5" y2="350" stroke="#59631a" stroke-width="1"/><line x1="369" y1="46.5" x2="372" y2="46.5" stroke="#59631a" stroke-width="1"/></svg></body></html>
